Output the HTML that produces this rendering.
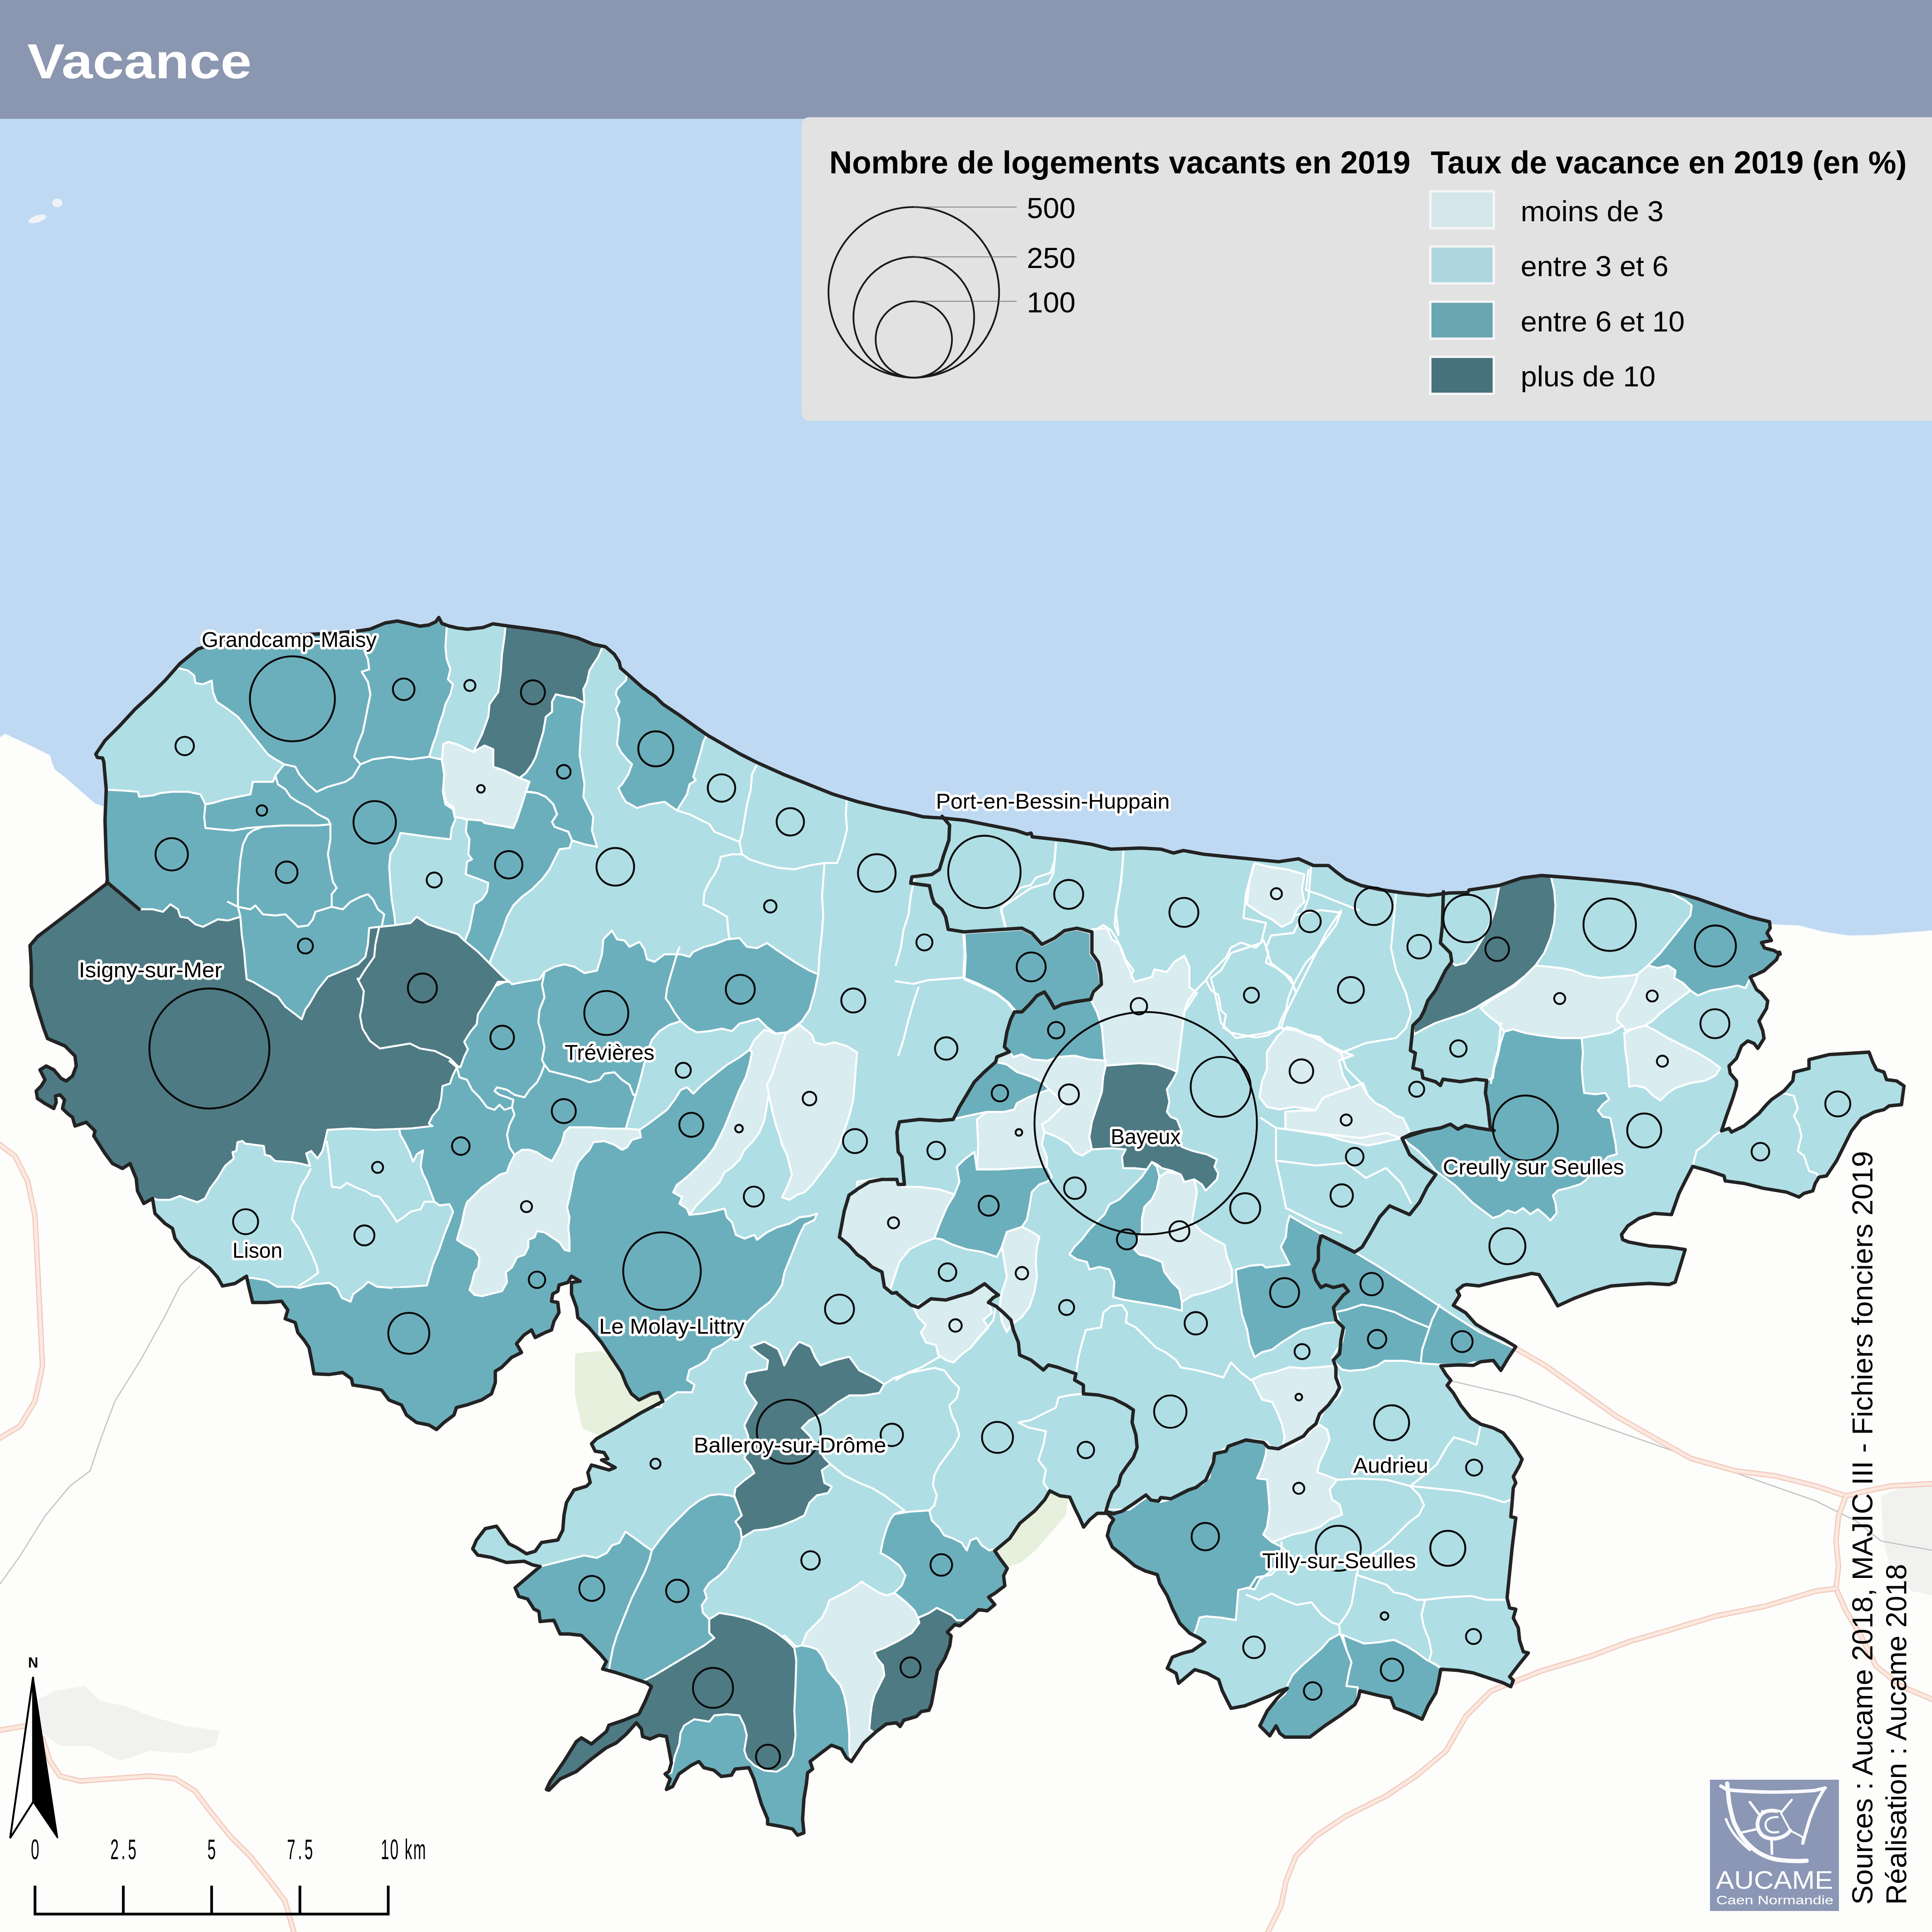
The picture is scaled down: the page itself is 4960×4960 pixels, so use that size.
<!DOCTYPE html>
<html><head><meta charset="utf-8"><title>Vacance</title>
<style>
html,body{margin:0;padding:0;background:#fdfdfc;}
body{width:4960px;height:4960px;overflow:hidden;font-family:"Liberation Sans",sans-serif;}
svg{display:block;position:absolute;left:0;top:0;}
text{font-family:"Liberation Sans",sans-serif;}
.lbl{font-size:52px;fill:#000;stroke:#fff;stroke-width:11px;paint-order:stroke fill;stroke-linejoin:round;text-anchor:middle;}
.c{fill:none;stroke:#0d0d0d;stroke-width:4.2px;}
</style></head><body>
<svg width="4960" height="4960" viewBox="0 0 4960 4960">

<rect x="0" y="0" width="4960" height="4960" fill="#fdfdfc"/>
<g transform="scale(2.56729)">
<rect x="0" y="0" width="1932" height="960" fill="#bfd9f2"/>
<path d="M0.0 737.2 L5.0 733.7 L15.0 738.4 L31.3 745.9 L42.5 751.6 L50.0 755.3 L51.9 762.2 L55.0 769.7 L65.0 777.2 L75.0 785.9 L85.0 794.7 L95.0 803.4 L101.9 805.9 L112.5 805.9 L120.0 965.0 L0.0 965.0Z" fill="#fdfdfc"/>
<path d="M1749.0 916.7 L1770.2 924.2 L1799.0 925.5 L1824.0 931.8 L1849.0 935.5 L1874.0 935.0 L1899.0 933.0 L1932.0 930.5 L1932.0 965.0 L1700.0 965.0Z" fill="#fdfdfc"/>
<path d="M575.0 1353.5 L600.0 1351.0 L665.0 1391.0 L665.0 1406.0 L600.0 1436.0 L582.5 1428.5 L575.0 1396.0Z" fill="#e6f0dc"/>
<path d="M994.6 1548.8 L1005.9 1535.0 L1020.9 1520.0 L1035.9 1507.5 L1048.4 1491.2 L1058.4 1497.5 L1068.4 1497.5 L1065.9 1515.0 L1050.9 1532.5 L1035.9 1550.0 L1020.9 1562.5 L1005.9 1567.5 L1000.9 1557.5Z" fill="#e6f0dc"/>
<path d="M35.0 1701.0 L55.0 1691.0 L85.0 1686.0 L100.0 1701.0 L125.0 1706.0 L150.0 1716.0 L185.0 1726.0 L220.0 1731.0 L215.0 1746.0 L190.0 1753.5 L150.0 1751.0 L120.0 1761.0 L90.0 1746.0 L60.0 1746.0 L40.0 1731.0Z" fill="#f1f1f0"/>
<path d="M1881.0 1496.0 L1906.0 1486.0 L1936.0 1481.0 L1936.0 1596.0 L1911.0 1591.0 L1891.0 1571.0 L1883.5 1541.0Z" fill="#f1f1f0"/>
<path d="M1341.0 1373.5 L1441.0 1378.5 L1516.0 1396.0 L1616.0 1431.0 L1716.0 1466.0 L1816.0 1501.0 L1856.0 1521.0 L1881.0 1541.0 L1936.0 1551.0" fill="none" stroke="#c4c4c4" stroke-width="1.2"/>
<path d="M-5.0 1591.0 L20.0 1556.0 L45.0 1516.0 L70.0 1486.0 L90.0 1471.0 L100.0 1441.0 L115.0 1401.0 L140.0 1361.0 L165.0 1316.0 L180.0 1286.0 L200.0 1266.0" fill="none" stroke="#c4c4c4" stroke-width="1.2"/>
<path d="M1516.0 1348.5 L1546.0 1366.0 L1581.0 1391.0 L1616.0 1416.0 L1651.0 1436.0 L1691.0 1458.5 L1736.0 1471.0 L1776.0 1476.0 L1816.0 1486.0 L1846.0 1496.0 L1866.0 1491.0 L1891.0 1486.0 L1936.0 1483.5" fill="none" stroke="#f3c9b9" stroke-width="5.5" stroke-linejoin="round"/>
<path d="M1516.0 1348.5 L1546.0 1366.0 L1581.0 1391.0 L1616.0 1416.0 L1651.0 1436.0 L1691.0 1458.5 L1736.0 1471.0 L1776.0 1476.0 L1816.0 1486.0 L1846.0 1496.0 L1866.0 1491.0 L1891.0 1486.0 L1936.0 1483.5" fill="none" stroke="#fbe9e1" stroke-width="3.2" stroke-linejoin="round"/>
<path d="M1846.0 1496.0 L1838.5 1516.0 L1836.0 1541.0 L1838.5 1566.0 L1836.0 1588.5 L1846.0 1611.0 L1861.0 1636.0 L1876.0 1666.0 L1901.0 1686.0 L1936.0 1701.0" fill="none" stroke="#f3c9b9" stroke-width="5.5" stroke-linejoin="round"/>
<path d="M1846.0 1496.0 L1838.5 1516.0 L1836.0 1541.0 L1838.5 1566.0 L1836.0 1588.5 L1846.0 1611.0 L1861.0 1636.0 L1876.0 1666.0 L1901.0 1686.0 L1936.0 1701.0" fill="none" stroke="#fbe9e1" stroke-width="3.2" stroke-linejoin="round"/>
<path d="M1836.0 1588.5 L1816.0 1591.0 L1766.0 1606.0 L1716.0 1616.0 L1666.0 1631.0 L1631.0 1641.0 L1591.0 1656.0 L1541.0 1671.0 L1491.0 1691.0 L1466.0 1716.0 L1446.0 1751.0 L1416.0 1776.0 L1386.0 1796.0 L1346.0 1816.0 L1316.0 1836.0 L1296.0 1856.0 L1286.0 1881.0 L1281.0 1906.0 L1266.0 1936.0" fill="none" stroke="#f3c9b9" stroke-width="5.5" stroke-linejoin="round"/>
<path d="M1836.0 1588.5 L1816.0 1591.0 L1766.0 1606.0 L1716.0 1616.0 L1666.0 1631.0 L1631.0 1641.0 L1591.0 1656.0 L1541.0 1671.0 L1491.0 1691.0 L1466.0 1716.0 L1446.0 1751.0 L1416.0 1776.0 L1386.0 1796.0 L1346.0 1816.0 L1316.0 1836.0 L1296.0 1856.0 L1286.0 1881.0 L1281.0 1906.0 L1266.0 1936.0" fill="none" stroke="#fbe9e1" stroke-width="3.2" stroke-linejoin="round"/>
<path d="M-5.0 1141.0 L15.0 1156.0 L27.5 1181.0 L35.0 1216.0 L37.5 1266.0 L40.0 1316.0 L42.5 1366.0 L35.0 1401.0 L20.0 1426.0 L-5.0 1441.0" fill="none" stroke="#f3c9b9" stroke-width="5.5" stroke-linejoin="round"/>
<path d="M-5.0 1141.0 L15.0 1156.0 L27.5 1181.0 L35.0 1216.0 L37.5 1266.0 L40.0 1316.0 L42.5 1366.0 L35.0 1401.0 L20.0 1426.0 L-5.0 1441.0" fill="none" stroke="#fbe9e1" stroke-width="3.2" stroke-linejoin="round"/>
<path d="M-5.0 1731.0 L25.0 1726.0 L42.5 1738.5 L50.0 1761.0 L60.0 1776.0 L80.0 1781.0 L115.0 1778.5 L150.0 1776.0 L175.0 1778.5 L195.0 1791.0 L210.0 1811.0 L230.0 1836.0 L250.0 1856.0 L270.0 1881.0 L285.0 1901.0 L295.0 1936.0" fill="none" stroke="#f3c9b9" stroke-width="5.5" stroke-linejoin="round"/>
<path d="M-5.0 1731.0 L25.0 1726.0 L42.5 1738.5 L50.0 1761.0 L60.0 1776.0 L80.0 1781.0 L115.0 1778.5 L150.0 1776.0 L175.0 1778.5 L195.0 1791.0 L210.0 1811.0 L230.0 1836.0 L250.0 1856.0 L270.0 1881.0 L285.0 1901.0 L295.0 1936.0" fill="none" stroke="#fbe9e1" stroke-width="3.2" stroke-linejoin="round"/>
<clipPath id="oc"><path d="M95.8 754.2 L105.0 740.5 L120.0 725.5 L135.0 709.2 L150.0 695.5 L165.0 680.5 L180.0 663.5 L197.5 649.2 L215.0 643.0 L237.5 639.2 L262.5 637.5 L287.5 636.0 L312.5 634.2 L337.5 633.0 L357.5 631.0 L370.0 629.2 L385.0 623.0 L397.5 621.0 L410.0 623.8 L420.0 626.2 L428.8 625.0 L435.5 622.0 L438.8 617.5 L442.0 623.5 L448.8 626.0 L457.5 628.0 L467.5 629.2 L483.0 627.5 L493.0 623.8 L508.0 626.0 L533.0 629.2 L558.0 633.0 L578.0 638.0 L593.0 644.2 L605.5 646.8 L614.2 654.2 L619.2 661.8 L620.5 668.0 L630.5 676.8 L643.0 688.0 L655.5 696.8 L663.0 704.2 L678.0 714.2 L695.5 726.8 L708.0 735.5 L723.0 744.2 L740.5 754.2 L758.0 763.0 L783.0 774.2 L808.0 784.2 L833.0 794.2 L858.0 801.8 L883.0 808.0 L908.0 813.0 L923.0 816.8 L933.0 817.5 L943.0 818.0 L966.0 820.5 L991.0 825.5 L1016.0 830.5 L1027.2 834.2 L1031.0 833.0 L1032.2 836.8 L1066.0 840.5 L1091.0 844.2 L1111.0 849.2 L1141.0 848.0 L1161.0 849.2 L1173.5 853.0 L1183.5 850.5 L1203.5 854.2 L1228.5 856.8 L1253.5 859.2 L1278.5 861.7 L1298.5 858.8 L1313.5 865.5 L1328.5 865.5 L1336.0 871.7 L1346.0 879.2 L1361.0 885.5 L1378.5 889.3 L1403.5 893.0 L1428.5 895.5 L1449.0 893.0 L1467.8 892.5 L1469.0 890.0 L1499.0 885.5 L1521.5 878.0 L1541.5 875.5 L1569.0 877.5 L1604.0 880.5 L1639.0 884.2 L1674.0 891.8 L1699.0 899.2 L1724.0 908.0 L1749.0 916.7 L1769.5 921.8 L1770.2 928.0 L1767.0 933.0 L1771.5 940.5 L1761.5 942.5 L1764.5 948.0 L1774.0 950.5 L1780.2 954.2 L1779.5 952.1 L1776.5 959.6 L1764.0 970.9 L1750.2 977.1 L1756.5 989.6 L1761.5 993.4 L1767.7 1000.9 L1766.5 1008.4 L1759.0 1020.9 L1762.8 1030.9 L1764.0 1038.4 L1757.8 1048.4 L1754.0 1043.4 L1747.7 1040.9 L1741.5 1045.9 L1736.5 1058.4 L1729.0 1065.9 L1730.2 1073.4 L1736.5 1080.9 L1736.5 1085.9 L1732.7 1098.4 L1726.5 1115.9 L1721.5 1130.9 L1729.0 1128.4 L1731.5 1132.1 L1744.0 1125.9 L1759.0 1113.4 L1766.5 1104.6 L1771.5 1099.6 L1784.0 1090.9 L1792.8 1080.9 L1794.0 1072.1 L1809.0 1068.4 L1809.0 1059.6 L1829.0 1054.6 L1849.0 1053.4 L1869.0 1052.1 L1872.8 1062.1 L1876.5 1069.6 L1884.0 1072.1 L1886.5 1079.6 L1896.5 1080.9 L1904.0 1085.9 L1901.5 1104.6 L1889.0 1105.9 L1884.0 1109.6 L1874.0 1112.1 L1866.5 1115.9 L1861.5 1118.4 L1851.5 1130.9 L1844.0 1145.9 L1836.5 1160.9 L1826.5 1175.9 L1819.0 1177.1 L1815.2 1183.4 L1812.8 1190.9 L1804.0 1193.4 L1799.0 1197.1 L1786.5 1192.1 L1764.0 1188.4 L1744.0 1183.4 L1725.2 1180.9 L1724.0 1175.9 L1709.0 1170.9 L1692.7 1166.4 L1686.5 1178.4 L1679.0 1193.4 L1671.5 1214.6 L1654.0 1213.4 L1639.0 1218.4 L1627.8 1225.9 L1621.5 1234.6 L1622.7 1239.6 L1629.0 1242.1 L1649.0 1245.9 L1669.0 1247.1 L1685.2 1249.6 L1680.2 1265.9 L1675.2 1282.1 L1669.0 1284.6 L1649.0 1283.4 L1629.0 1284.6 L1611.5 1285.9 L1594.0 1290.9 L1574.0 1298.4 L1557.7 1305.9 L1549.0 1290.9 L1539.0 1274.6 L1531.5 1273.4 L1521.5 1275.9 L1509.0 1278.4 L1494.0 1282.1 L1479.0 1285.9 L1466.5 1284.6 L1463.3 1285.4 L1457.1 1290.4 L1459.6 1295.4 L1453.3 1305.4 L1465.8 1312.9 L1475.8 1324.2 L1488.3 1331.7 L1503.3 1339.2 L1515.8 1346.7 L1508.3 1357.9 L1500.8 1370.4 L1493.3 1360.4 L1480.8 1361.7 L1473.3 1365.4 L1458.3 1364.9 L1440.8 1365.9 L1445.8 1374.2 L1450.8 1380.4 L1447.1 1385.4 L1453.3 1392.9 L1460.8 1405.4 L1470.8 1417.9 L1480.8 1424.2 L1493.3 1427.9 L1503.3 1432.9 L1513.3 1445.4 L1522.1 1459.2 L1519.6 1465.4 L1513.3 1476.7 L1515.8 1482.9 L1513.3 1487.9 L1512.1 1502.9 L1510.8 1516.7 L1515.8 1517.9 L1512.1 1547.9 L1509.6 1572.9 L1507.1 1597.9 L1509.6 1607.9 L1515.8 1609.2 L1513.3 1617.9 L1518.3 1627.9 L1519.6 1640.4 L1523.3 1651.7 L1528.3 1652.9 L1518.3 1665.4 L1509.6 1676.7 L1513.3 1680.4 L1510.8 1686.7 L1503.3 1682.9 L1488.3 1677.9 L1473.3 1672.9 L1458.3 1670.4 L1440.8 1669.2 L1438.3 1682.9 L1435.8 1692.9 L1428.3 1705.4 L1422.1 1719.2 L1408.3 1712.9 L1394.6 1707.9 L1390.8 1697.9 L1378.3 1695.4 L1363.3 1691.7 L1359.8 1690.8 L1358.6 1697.1 L1354.8 1704.6 L1339.8 1715.8 L1324.8 1725.8 L1309.8 1737.1 L1294.8 1737.1 L1284.8 1737.1 L1279.8 1733.3 L1276.1 1725.8 L1269.8 1735.8 L1264.8 1730.8 L1259.8 1725.8 L1267.3 1710.8 L1277.3 1698.3 L1287.3 1688.3 L1279.8 1690.8 L1269.8 1695.8 L1257.3 1700.8 L1244.8 1705.8 L1231.1 1708.3 L1227.3 1700.8 L1222.3 1690.8 L1218.6 1679.6 L1207.3 1673.3 L1194.8 1669.6 L1178.6 1683.3 L1176.1 1673.3 L1167.3 1668.3 L1172.3 1657.1 L1182.3 1653.3 L1192.3 1650.8 L1204.8 1642.1 L1199.8 1638.3 L1189.8 1633.3 L1179.8 1623.3 L1172.3 1608.3 L1167.3 1595.8 L1159.8 1583.3 L1157.3 1574.6 L1144.8 1570.8 L1134.8 1565.8 L1124.8 1557.1 L1112.3 1547.1 L1107.3 1535.8 L1109.8 1525.8 L1113.6 1519.6 L1107.3 1513.3 L1097.3 1513.3 L1089.8 1519.6 L1083.6 1527.1 L1079.8 1518.3 L1074.8 1508.3 L1069.8 1497.1 L1059.8 1495.8 L1049.8 1490.8 L1044.8 1499.6 L1034.8 1510.8 L1019.8 1523.3 L1009.8 1538.3 L994.8 1550.8 L999.8 1558.3 L1007.3 1568.3 L1003.6 1575.8 L1004.8 1585.8 L994.8 1593.3 L988.6 1597.1 L994.8 1604.6 L987.3 1610.8 L978.6 1609.6 L972.3 1615.8 L959.8 1625.8 L954.8 1624.6 L947.3 1632.1 L951.1 1635.8 L949.8 1645.8 L944.8 1658.3 L937.3 1670.8 L934.8 1685.8 L931.4 1704.0 L928.9 1710.3 L921.4 1711.5 L916.4 1716.5 L903.9 1720.2 L900.1 1726.5 L896.4 1722.8 L886.4 1724.0 L876.4 1731.5 L863.9 1742.8 L856.4 1754.0 L851.4 1761.5 L846.4 1757.8 L841.4 1749.0 L831.4 1745.2 L821.4 1752.7 L810.1 1761.5 L812.6 1769.0 L807.6 1772.8 L806.4 1784.0 L803.9 1799.0 L802.6 1819.0 L803.9 1832.8 L797.6 1835.2 L792.6 1829.0 L781.4 1826.5 L767.6 1824.0 L767.6 1819.0 L761.4 1804.0 L753.9 1779.0 L748.9 1767.7 L735.1 1769.0 L731.4 1775.2 L721.4 1776.5 L713.9 1770.2 L703.9 1767.7 L698.9 1761.5 L691.4 1765.2 L678.9 1774.0 L672.6 1786.5 L666.4 1789.5 L670.1 1779.0 L665.1 1774.0 L668.9 1771.5 L671.4 1762.8 L668.9 1749.0 L666.4 1736.5 L658.9 1735.2 L650.1 1739.0 L642.6 1736.5 L641.4 1729.0 L636.4 1722.8 L626.4 1734.0 L616.4 1742.8 L606.4 1747.7 L591.4 1759.0 L576.4 1771.5 L560.1 1779.0 L548.9 1790.2 L546.4 1789.5 L550.1 1781.5 L563.9 1761.5 L576.4 1741.5 L581.4 1737.8 L591.4 1744.0 L606.4 1731.5 L608.9 1725.2 L623.9 1720.2 L638.9 1714.0 L645.1 1701.5 L651.4 1686.5 L646.4 1682.8 L631.4 1677.7 L616.4 1672.7 L602.6 1669.0 L606.4 1661.5 L600.1 1654.0 L591.4 1645.2 L581.4 1635.3 L568.9 1634.0 L560.1 1634.0 L553.9 1620.2 L540.1 1621.5 L538.9 1611.5 L533.9 1609.0 L527.6 1599.0 L518.9 1596.5 L515.1 1587.8 L540.1 1566.5 L532.8 1565.0 L524.0 1561.2 L506.5 1562.5 L491.5 1557.5 L477.7 1555.0 L472.7 1548.8 L476.5 1540.0 L485.2 1528.7 L496.5 1526.2 L502.8 1535.0 L509.0 1543.8 L516.5 1547.5 L526.5 1553.8 L535.2 1551.2 L541.5 1542.5 L557.8 1540.0 L562.8 1530.0 L564.0 1515.0 L566.5 1502.5 L574.0 1490.0 L586.5 1486.2 L590.2 1482.5 L587.8 1472.5 L591.5 1465.0 L609.0 1470.0 L615.2 1467.5 L601.5 1460.0 L607.8 1458.8 L604.0 1452.5 L595.2 1451.2 L591.5 1443.8 L596.5 1438.8 L616.5 1427.5 L641.5 1412.5 L662.8 1401.2 L659.0 1392.5 L651.5 1393.8 L639.0 1400.0 L631.5 1393.8 L626.5 1385.0 L621.5 1372.5 L611.5 1357.5 L601.5 1342.5 L589.0 1327.5 L577.8 1317.5 L576.5 1307.5 L571.5 1293.8 L571.5 1282.5 L580.2 1281.2 L571.5 1276.2 L567.8 1282.5 L559.0 1285.0 L557.8 1291.2 L552.8 1293.8 L551.5 1301.2 L557.8 1302.5 L559.0 1312.5 L554.0 1321.2 L551.5 1330.0 L545.2 1332.5 L535.2 1337.5 L531.5 1330.0 L524.0 1335.0 L516.5 1343.7 L521.5 1352.5 L511.5 1357.5 L501.5 1367.5 L495.3 1371.2 L495.3 1382.5 L491.5 1393.8 L481.5 1400.0 L466.5 1405.0 L456.5 1407.5 L454.0 1415.0 L444.0 1422.5 L436.5 1429.5 L429.0 1425.0 L416.5 1422.5 L406.5 1415.0 L401.5 1405.0 L389.0 1400.0 L381.5 1390.0 L366.5 1387.0 L352.8 1385.0 L351.5 1378.8 L342.7 1372.5 L329.0 1374.5 L314.0 1373.8 L311.5 1360.0 L309.0 1347.5 L304.0 1340.0 L297.8 1332.5 L295.2 1322.5 L285.2 1318.8 L287.8 1310.0 L281.5 1301.2 L266.5 1302.5 L252.7 1302.5 L249.0 1287.5 L246.5 1276.2 L235.0 1283.5 L222.5 1286.0 L217.5 1277.2 L210.0 1268.5 L200.0 1261.0 L190.0 1256.0 L182.5 1248.5 L175.0 1238.5 L172.5 1228.5 L165.0 1223.5 L155.0 1213.5 L152.5 1198.5 L143.8 1203.5 L137.5 1191.0 L136.2 1178.5 L130.0 1163.5 L122.5 1168.5 L112.5 1163.5 L105.0 1153.5 L93.8 1136.0 L95.0 1131.0 L86.2 1122.2 L75.0 1126.0 L72.5 1117.2 L67.5 1113.5 L62.5 1108.5 L64.5 1099.8 L60.0 1094.8 L55.5 1096.0 L56.2 1102.2 L53.8 1108.5 L45.0 1103.5 L37.5 1098.5 L36.2 1091.0 L41.2 1086.0 L45.0 1079.8 L40.0 1069.8 L46.2 1066.0 L53.8 1069.8 L61.2 1078.5 L66.2 1081.0 L72.5 1076.0 L76.2 1066.0 L75.0 1056.0 L65.0 1046.0 L47.5 1038.5 L43.8 1028.5 L37.5 1008.5 L31.3 986.0 L31.3 966.0 L30.0 945.5 L37.5 936.7 L75.0 908.0 L107.5 883.0 L106.2 858.0 L105.0 820.5 L106.2 789.2 L103.8 761.8 L102.5 758.0 L97.5 757.5Z"/></clipPath>
<g clip-path="url(#oc)">
<path d="M95.8 754.2 L105.0 740.5 L120.0 725.5 L135.0 709.2 L150.0 695.5 L165.0 680.5 L180.0 663.5 L197.5 649.2 L215.0 643.0 L237.5 639.2 L262.5 637.5 L287.5 636.0 L312.5 634.2 L337.5 633.0 L357.5 631.0 L370.0 629.2 L385.0 623.0 L397.5 621.0 L410.0 623.8 L420.0 626.2 L428.8 625.0 L435.5 622.0 L438.8 617.5 L442.0 623.5 L448.8 626.0 L457.5 628.0 L467.5 629.2 L483.0 627.5 L493.0 623.8 L508.0 626.0 L533.0 629.2 L558.0 633.0 L578.0 638.0 L593.0 644.2 L605.5 646.8 L614.2 654.2 L619.2 661.8 L620.5 668.0 L630.5 676.8 L643.0 688.0 L655.5 696.8 L663.0 704.2 L678.0 714.2 L695.5 726.8 L708.0 735.5 L723.0 744.2 L740.5 754.2 L758.0 763.0 L783.0 774.2 L808.0 784.2 L833.0 794.2 L858.0 801.8 L883.0 808.0 L908.0 813.0 L923.0 816.8 L933.0 817.5 L943.0 818.0 L966.0 820.5 L991.0 825.5 L1016.0 830.5 L1027.2 834.2 L1031.0 833.0 L1032.2 836.8 L1066.0 840.5 L1091.0 844.2 L1111.0 849.2 L1141.0 848.0 L1161.0 849.2 L1173.5 853.0 L1183.5 850.5 L1203.5 854.2 L1228.5 856.8 L1253.5 859.2 L1278.5 861.7 L1298.5 858.8 L1313.5 865.5 L1328.5 865.5 L1336.0 871.7 L1346.0 879.2 L1361.0 885.5 L1378.5 889.3 L1403.5 893.0 L1428.5 895.5 L1449.0 893.0 L1467.8 892.5 L1469.0 890.0 L1499.0 885.5 L1521.5 878.0 L1541.5 875.5 L1569.0 877.5 L1604.0 880.5 L1639.0 884.2 L1674.0 891.8 L1699.0 899.2 L1724.0 908.0 L1749.0 916.7 L1769.5 921.8 L1770.2 928.0 L1767.0 933.0 L1771.5 940.5 L1761.5 942.5 L1764.5 948.0 L1774.0 950.5 L1780.2 954.2 L1779.5 952.1 L1776.5 959.6 L1764.0 970.9 L1750.2 977.1 L1756.5 989.6 L1761.5 993.4 L1767.7 1000.9 L1766.5 1008.4 L1759.0 1020.9 L1762.8 1030.9 L1764.0 1038.4 L1757.8 1048.4 L1754.0 1043.4 L1747.7 1040.9 L1741.5 1045.9 L1736.5 1058.4 L1729.0 1065.9 L1730.2 1073.4 L1736.5 1080.9 L1736.5 1085.9 L1732.7 1098.4 L1726.5 1115.9 L1721.5 1130.9 L1729.0 1128.4 L1731.5 1132.1 L1744.0 1125.9 L1759.0 1113.4 L1766.5 1104.6 L1771.5 1099.6 L1784.0 1090.9 L1792.8 1080.9 L1794.0 1072.1 L1809.0 1068.4 L1809.0 1059.6 L1829.0 1054.6 L1849.0 1053.4 L1869.0 1052.1 L1872.8 1062.1 L1876.5 1069.6 L1884.0 1072.1 L1886.5 1079.6 L1896.5 1080.9 L1904.0 1085.9 L1901.5 1104.6 L1889.0 1105.9 L1884.0 1109.6 L1874.0 1112.1 L1866.5 1115.9 L1861.5 1118.4 L1851.5 1130.9 L1844.0 1145.9 L1836.5 1160.9 L1826.5 1175.9 L1819.0 1177.1 L1815.2 1183.4 L1812.8 1190.9 L1804.0 1193.4 L1799.0 1197.1 L1786.5 1192.1 L1764.0 1188.4 L1744.0 1183.4 L1725.2 1180.9 L1724.0 1175.9 L1709.0 1170.9 L1692.7 1166.4 L1686.5 1178.4 L1679.0 1193.4 L1671.5 1214.6 L1654.0 1213.4 L1639.0 1218.4 L1627.8 1225.9 L1621.5 1234.6 L1622.7 1239.6 L1629.0 1242.1 L1649.0 1245.9 L1669.0 1247.1 L1685.2 1249.6 L1680.2 1265.9 L1675.2 1282.1 L1669.0 1284.6 L1649.0 1283.4 L1629.0 1284.6 L1611.5 1285.9 L1594.0 1290.9 L1574.0 1298.4 L1557.7 1305.9 L1549.0 1290.9 L1539.0 1274.6 L1531.5 1273.4 L1521.5 1275.9 L1509.0 1278.4 L1494.0 1282.1 L1479.0 1285.9 L1466.5 1284.6 L1463.3 1285.4 L1457.1 1290.4 L1459.6 1295.4 L1453.3 1305.4 L1465.8 1312.9 L1475.8 1324.2 L1488.3 1331.7 L1503.3 1339.2 L1515.8 1346.7 L1508.3 1357.9 L1500.8 1370.4 L1493.3 1360.4 L1480.8 1361.7 L1473.3 1365.4 L1458.3 1364.9 L1440.8 1365.9 L1445.8 1374.2 L1450.8 1380.4 L1447.1 1385.4 L1453.3 1392.9 L1460.8 1405.4 L1470.8 1417.9 L1480.8 1424.2 L1493.3 1427.9 L1503.3 1432.9 L1513.3 1445.4 L1522.1 1459.2 L1519.6 1465.4 L1513.3 1476.7 L1515.8 1482.9 L1513.3 1487.9 L1512.1 1502.9 L1510.8 1516.7 L1515.8 1517.9 L1512.1 1547.9 L1509.6 1572.9 L1507.1 1597.9 L1509.6 1607.9 L1515.8 1609.2 L1513.3 1617.9 L1518.3 1627.9 L1519.6 1640.4 L1523.3 1651.7 L1528.3 1652.9 L1518.3 1665.4 L1509.6 1676.7 L1513.3 1680.4 L1510.8 1686.7 L1503.3 1682.9 L1488.3 1677.9 L1473.3 1672.9 L1458.3 1670.4 L1440.8 1669.2 L1438.3 1682.9 L1435.8 1692.9 L1428.3 1705.4 L1422.1 1719.2 L1408.3 1712.9 L1394.6 1707.9 L1390.8 1697.9 L1378.3 1695.4 L1363.3 1691.7 L1359.8 1690.8 L1358.6 1697.1 L1354.8 1704.6 L1339.8 1715.8 L1324.8 1725.8 L1309.8 1737.1 L1294.8 1737.1 L1284.8 1737.1 L1279.8 1733.3 L1276.1 1725.8 L1269.8 1735.8 L1264.8 1730.8 L1259.8 1725.8 L1267.3 1710.8 L1277.3 1698.3 L1287.3 1688.3 L1279.8 1690.8 L1269.8 1695.8 L1257.3 1700.8 L1244.8 1705.8 L1231.1 1708.3 L1227.3 1700.8 L1222.3 1690.8 L1218.6 1679.6 L1207.3 1673.3 L1194.8 1669.6 L1178.6 1683.3 L1176.1 1673.3 L1167.3 1668.3 L1172.3 1657.1 L1182.3 1653.3 L1192.3 1650.8 L1204.8 1642.1 L1199.8 1638.3 L1189.8 1633.3 L1179.8 1623.3 L1172.3 1608.3 L1167.3 1595.8 L1159.8 1583.3 L1157.3 1574.6 L1144.8 1570.8 L1134.8 1565.8 L1124.8 1557.1 L1112.3 1547.1 L1107.3 1535.8 L1109.8 1525.8 L1113.6 1519.6 L1107.3 1513.3 L1097.3 1513.3 L1089.8 1519.6 L1083.6 1527.1 L1079.8 1518.3 L1074.8 1508.3 L1069.8 1497.1 L1059.8 1495.8 L1049.8 1490.8 L1044.8 1499.6 L1034.8 1510.8 L1019.8 1523.3 L1009.8 1538.3 L994.8 1550.8 L999.8 1558.3 L1007.3 1568.3 L1003.6 1575.8 L1004.8 1585.8 L994.8 1593.3 L988.6 1597.1 L994.8 1604.6 L987.3 1610.8 L978.6 1609.6 L972.3 1615.8 L959.8 1625.8 L954.8 1624.6 L947.3 1632.1 L951.1 1635.8 L949.8 1645.8 L944.8 1658.3 L937.3 1670.8 L934.8 1685.8 L931.4 1704.0 L928.9 1710.3 L921.4 1711.5 L916.4 1716.5 L903.9 1720.2 L900.1 1726.5 L896.4 1722.8 L886.4 1724.0 L876.4 1731.5 L863.9 1742.8 L856.4 1754.0 L851.4 1761.5 L846.4 1757.8 L841.4 1749.0 L831.4 1745.2 L821.4 1752.7 L810.1 1761.5 L812.6 1769.0 L807.6 1772.8 L806.4 1784.0 L803.9 1799.0 L802.6 1819.0 L803.9 1832.8 L797.6 1835.2 L792.6 1829.0 L781.4 1826.5 L767.6 1824.0 L767.6 1819.0 L761.4 1804.0 L753.9 1779.0 L748.9 1767.7 L735.1 1769.0 L731.4 1775.2 L721.4 1776.5 L713.9 1770.2 L703.9 1767.7 L698.9 1761.5 L691.4 1765.2 L678.9 1774.0 L672.6 1786.5 L666.4 1789.5 L670.1 1779.0 L665.1 1774.0 L668.9 1771.5 L671.4 1762.8 L668.9 1749.0 L666.4 1736.5 L658.9 1735.2 L650.1 1739.0 L642.6 1736.5 L641.4 1729.0 L636.4 1722.8 L626.4 1734.0 L616.4 1742.8 L606.4 1747.7 L591.4 1759.0 L576.4 1771.5 L560.1 1779.0 L548.9 1790.2 L546.4 1789.5 L550.1 1781.5 L563.9 1761.5 L576.4 1741.5 L581.4 1737.8 L591.4 1744.0 L606.4 1731.5 L608.9 1725.2 L623.9 1720.2 L638.9 1714.0 L645.1 1701.5 L651.4 1686.5 L646.4 1682.8 L631.4 1677.7 L616.4 1672.7 L602.6 1669.0 L606.4 1661.5 L600.1 1654.0 L591.4 1645.2 L581.4 1635.3 L568.9 1634.0 L560.1 1634.0 L553.9 1620.2 L540.1 1621.5 L538.9 1611.5 L533.9 1609.0 L527.6 1599.0 L518.9 1596.5 L515.1 1587.8 L540.1 1566.5 L532.8 1565.0 L524.0 1561.2 L506.5 1562.5 L491.5 1557.5 L477.7 1555.0 L472.7 1548.8 L476.5 1540.0 L485.2 1528.7 L496.5 1526.2 L502.8 1535.0 L509.0 1543.8 L516.5 1547.5 L526.5 1553.8 L535.2 1551.2 L541.5 1542.5 L557.8 1540.0 L562.8 1530.0 L564.0 1515.0 L566.5 1502.5 L574.0 1490.0 L586.5 1486.2 L590.2 1482.5 L587.8 1472.5 L591.5 1465.0 L609.0 1470.0 L615.2 1467.5 L601.5 1460.0 L607.8 1458.8 L604.0 1452.5 L595.2 1451.2 L591.5 1443.8 L596.5 1438.8 L616.5 1427.5 L641.5 1412.5 L662.8 1401.2 L659.0 1392.5 L651.5 1393.8 L639.0 1400.0 L631.5 1393.8 L626.5 1385.0 L621.5 1372.5 L611.5 1357.5 L601.5 1342.5 L589.0 1327.5 L577.8 1317.5 L576.5 1307.5 L571.5 1293.8 L571.5 1282.5 L580.2 1281.2 L571.5 1276.2 L567.8 1282.5 L559.0 1285.0 L557.8 1291.2 L552.8 1293.8 L551.5 1301.2 L557.8 1302.5 L559.0 1312.5 L554.0 1321.2 L551.5 1330.0 L545.2 1332.5 L535.2 1337.5 L531.5 1330.0 L524.0 1335.0 L516.5 1343.7 L521.5 1352.5 L511.5 1357.5 L501.5 1367.5 L495.3 1371.2 L495.3 1382.5 L491.5 1393.8 L481.5 1400.0 L466.5 1405.0 L456.5 1407.5 L454.0 1415.0 L444.0 1422.5 L436.5 1429.5 L429.0 1425.0 L416.5 1422.5 L406.5 1415.0 L401.5 1405.0 L389.0 1400.0 L381.5 1390.0 L366.5 1387.0 L352.8 1385.0 L351.5 1378.8 L342.7 1372.5 L329.0 1374.5 L314.0 1373.8 L311.5 1360.0 L309.0 1347.5 L304.0 1340.0 L297.8 1332.5 L295.2 1322.5 L285.2 1318.8 L287.8 1310.0 L281.5 1301.2 L266.5 1302.5 L252.7 1302.5 L249.0 1287.5 L246.5 1276.2 L235.0 1283.5 L222.5 1286.0 L217.5 1277.2 L210.0 1268.5 L200.0 1261.0 L190.0 1256.0 L182.5 1248.5 L175.0 1238.5 L172.5 1228.5 L165.0 1223.5 L155.0 1213.5 L152.5 1198.5 L143.8 1203.5 L137.5 1191.0 L136.2 1178.5 L130.0 1163.5 L122.5 1168.5 L112.5 1163.5 L105.0 1153.5 L93.8 1136.0 L95.0 1131.0 L86.2 1122.2 L75.0 1126.0 L72.5 1117.2 L67.5 1113.5 L62.5 1108.5 L64.5 1099.8 L60.0 1094.8 L55.5 1096.0 L56.2 1102.2 L53.8 1108.5 L45.0 1103.5 L37.5 1098.5 L36.2 1091.0 L41.2 1086.0 L45.0 1079.8 L40.0 1069.8 L46.2 1066.0 L53.8 1069.8 L61.2 1078.5 L66.2 1081.0 L72.5 1076.0 L76.2 1066.0 L75.0 1056.0 L65.0 1046.0 L47.5 1038.5 L43.8 1028.5 L37.5 1008.5 L31.3 986.0 L31.3 966.0 L30.0 945.5 L37.5 936.7 L75.0 908.0 L107.5 883.0 L106.2 858.0 L105.0 820.5 L106.2 789.2 L103.8 761.8 L102.5 758.0 L97.5 757.5Z" fill="#b0dee5"/>
<path d="M65.4 789.8 L107.9 789.8 L122.9 790.5 L137.9 791.8 L139.2 796.8 L152.9 795.5 L160.4 793.0 L172.9 791.8 L187.9 791.8 L200.4 794.3 L205.4 804.3 L212.9 803.0 L225.4 799.3 L237.9 796.8 L250.4 794.3 L252.9 781.8 L272.9 781.8 L275.4 775.5 L284.2 764.3 L275.4 759.3 L267.9 754.3 L257.9 741.8 L247.9 729.3 L237.9 716.8 L227.9 709.3 L216.7 701.8 L212.9 691.8 L211.7 680.5 L202.9 684.3 L195.4 683.0 L194.2 675.5 L187.9 670.5 L177.9 668.0 L177.9 609.3 L446.7 609.3 L446.7 628.0 L445.4 646.8 L446.7 659.3 L450.4 669.3 L447.9 679.3 L452.9 684.3 L450.4 694.3 L445.4 704.3 L442.9 714.3 L439.2 724.3 L436.7 734.3 L432.9 744.3 L429.2 756.8 L440.4 759.3 L441.7 759.3 L444.2 774.3 L442.9 791.8 L445.4 804.3 L452.9 809.3 L455.4 819.3 L451.7 828.0 L450.4 839.3 L427.9 836.8 L410.4 834.3 L400.4 833.0 L396.7 844.3 L390.4 854.3 L389.2 866.8 L390.4 884.3 L391.7 899.3 L394.2 914.3 L395.4 924.3 L395.4 1009.3 L227.9 1034.3 L102.9 934.3 L65.4 871.8Z" fill="#6cafbc" stroke="#fff" stroke-width="2.0" stroke-linejoin="round"/>
<path d="M552.0 701.8 L555.8 694.3 L567.0 696.8 L574.5 698.0 L584.5 703.0 L582.0 716.8 L580.8 734.3 L579.5 754.3 L582.0 769.3 L584.5 784.3 L583.3 796.8 L589.5 809.3 L593.3 816.8 L592.0 830.5 L597.0 846.8 L584.5 844.3 L572.0 840.5 L568.3 831.8 L554.5 826.8 L552.0 821.8 L557.0 814.3 L553.3 804.3 L545.8 796.8 L537.0 793.0 L529.5 791.8 L525.8 791.8 L529.5 781.8 L519.5 778.0 L525.8 773.0 L532.0 764.3 L535.8 756.8 L539.5 744.3 L543.3 731.8 L545.8 716.8 L552.0 711.8Z" fill="#6cafbc" stroke="#fff" stroke-width="2.0" stroke-linejoin="round"/>
<path d="M467.0 819.3 L482.0 820.5 L484.5 823.0 L499.5 825.5 L513.3 828.0 L517.0 819.3 L522.0 804.3 L525.8 791.8 L537.0 793.0 L545.8 796.8 L553.3 804.3 L557.0 814.3 L552.0 821.8 L554.5 826.8 L568.3 831.8 L572.0 840.5 L569.5 848.0 L559.5 849.3 L554.5 859.3 L549.5 869.3 L542.0 879.3 L532.0 889.3 L522.0 896.8 L513.3 905.5 L507.0 916.8 L502.0 931.8 L495.8 946.8 L489.5 963.0 L477.0 954.3 L464.5 945.5 L463.3 946.8 L464.5 941.8 L469.5 929.3 L472.0 916.8 L474.5 904.3 L482.0 899.3 L487.0 891.8 L488.3 883.0 L479.5 879.3 L465.8 874.3 L467.0 861.8 L472.0 859.3 L468.3 854.3 L469.5 839.3 L465.8 831.8Z" fill="#6cafbc" stroke="#fff" stroke-width="2.0" stroke-linejoin="round"/>
<path d="M625.8 680.5 L617.0 689.3 L615.8 694.3 L619.5 701.8 L615.8 709.3 L619.5 719.3 L618.3 731.8 L617.0 744.3 L620.8 751.8 L627.0 759.3 L632.0 764.3 L628.3 774.3 L622.0 784.3 L618.3 788.0 L622.0 795.5 L625.8 801.8 L637.0 808.0 L649.5 804.3 L664.5 801.8 L677.0 810.5 L680.8 804.3 L687.0 794.3 L689.5 784.3 L695.8 780.5 L693.3 776.8 L697.0 764.3 L700.8 751.8 L703.3 741.8 L705.8 736.8 L705.8 724.3 L714.5 709.3 L629.5 659.3Z" fill="#6cafbc" stroke="#fff" stroke-width="2.0" stroke-linejoin="round"/>
<path d="M508.3 980.6 L512.0 984.3 L524.5 981.8 L539.5 979.3 L544.5 971.8 L554.5 966.8 L564.5 964.3 L574.5 966.8 L584.5 973.1 L597.0 970.6 L602.0 954.3 L603.3 939.3 L612.0 930.6 L617.0 939.3 L624.5 940.6 L629.5 946.8 L639.5 941.8 L644.5 949.3 L647.0 959.3 L654.5 961.8 L664.5 954.3 L680.8 954.3 L689.5 956.8 L693.3 951.8 L704.5 946.8 L714.5 944.3 L727.0 939.3 L739.5 938.1 L747.0 946.8 L757.0 948.1 L767.0 943.1 L779.5 951.8 L794.5 961.8 L809.5 970.6 L818.3 974.3 L814.5 992.3 L809.5 1009.8 L802.0 1021.1 L795.8 1026.1 L787.0 1032.3 L775.8 1033.6 L767.0 1027.3 L758.3 1018.6 L749.5 1021.1 L739.5 1023.6 L732.0 1031.1 L722.0 1028.6 L709.5 1031.1 L697.0 1032.3 L689.5 1028.6 L680.8 1021.1 L669.5 1024.8 L659.5 1031.1 L652.0 1039.8 L647.0 1052.3 L643.3 1067.3 L639.5 1082.3 L635.8 1094.8 L632.0 1107.3 L628.3 1119.8 L625.8 1128.6 L639.5 1129.8 L647.0 1124.8 L657.0 1117.3 L667.0 1109.8 L674.5 1099.8 L680.8 1089.8 L687.0 1087.3 L693.3 1093.6 L702.0 1084.8 L714.5 1074.8 L727.0 1064.8 L739.5 1057.3 L749.5 1049.8 L752.0 1052.3 L749.5 1064.8 L745.8 1077.3 L739.5 1089.8 L734.5 1102.3 L729.5 1114.8 L724.5 1127.3 L719.5 1137.3 L714.5 1147.3 L707.0 1157.3 L698.3 1166.1 L689.5 1174.8 L682.0 1181.1 L677.0 1184.8 L673.3 1192.3 L682.0 1197.3 L679.5 1203.6 L687.0 1208.6 L689.5 1214.8 L702.0 1213.6 L714.5 1211.1 L724.5 1208.6 L727.0 1217.3 L732.0 1222.3 L735.8 1234.8 L744.5 1238.6 L754.5 1234.8 L757.0 1239.8 L767.0 1232.3 L777.0 1227.3 L789.5 1223.6 L799.5 1217.3 L809.5 1216.1 L817.0 1213.6 L814.5 1219.8 L804.5 1224.8 L799.5 1234.8 L794.5 1247.3 L789.5 1259.8 L784.5 1272.3 L782.0 1284.8 L775.8 1294.8 L769.5 1302.3 L759.5 1309.8 L749.5 1319.8 L739.5 1329.8 L732.0 1337.3 L722.0 1344.8 L712.0 1349.8 L707.0 1359.8 L699.5 1364.8 L689.5 1369.8 L687.0 1379.8 L694.5 1384.8 L692.0 1392.3 L677.0 1392.3 L669.5 1397.3 L662.0 1402.3 L660.8 1407.3 L639.5 1406.1 L589.5 1409.8 L514.5 1422.3 L389.5 1434.8 L377.0 1434.8 L377.0 1309.8 L376.9 1286.7 L391.9 1287.9 L409.4 1286.7 L426.9 1285.4 L429.4 1276.7 L433.1 1264.2 L439.4 1249.2 L444.4 1234.2 L449.4 1221.7 L453.1 1211.7 L449.4 1204.2 L439.4 1205.4 L434.4 1201.7 L430.6 1191.7 L426.9 1181.7 L423.1 1174.2 L420.6 1166.7 L421.9 1156.7 L423.1 1150.4 L416.9 1154.2 L413.1 1161.7 L409.4 1151.7 L404.4 1141.7 L400.6 1135.4 L389.5 1084.8 L439.5 1009.8Z" fill="#6cafbc" stroke="#fff" stroke-width="2.0" stroke-linejoin="round"/>
<path d="M245.6 1277.9 L251.9 1277.9 L266.9 1280.4 L276.9 1286.7 L291.9 1286.7 L299.4 1287.9 L314.4 1284.2 L329.4 1282.9 L336.9 1287.9 L341.9 1297.9 L350.6 1301.7 L353.1 1294.2 L363.1 1286.7 L368.1 1281.7 L376.9 1286.7 L391.9 1287.9 L416.9 1287.9 L416.9 1451.7 L245.6 1451.7Z" fill="#6cafbc" stroke="none" stroke-width="2.0" stroke-linejoin="round"/>
<path d="M540.3 1566.4 L584.3 1555.4 L596.8 1557.9 L606.8 1552.9 L611.8 1545.4 L619.3 1542.9 L625.5 1531.7 L634.3 1537.9 L644.3 1545.4 L651.8 1550.4 L659.3 1540.4 L669.3 1527.9 L679.3 1517.9 L689.3 1507.9 L699.3 1500.4 L709.3 1495.4 L719.3 1494.2 L729.3 1495.4 L734.3 1496.7 L738.0 1505.4 L741.8 1515.4 L735.5 1521.7 L740.5 1529.2 L741.8 1537.9 L739.3 1547.9 L734.3 1555.4 L729.3 1562.9 L726.8 1567.9 L719.3 1575.4 L709.3 1582.9 L704.3 1590.4 L706.8 1597.9 L701.8 1605.4 L703.0 1612.9 L709.3 1619.2 L709.3 1632.9 L714.3 1637.9 L684.3 1710.4 L584.3 1735.4 L484.3 1735.4 L484.3 1610.4 L515.3 1587.7Z" fill="#6cafbc" stroke="#fff" stroke-width="2.0" stroke-linejoin="round"/>
<path d="M796.3 1646.7 L801.8 1645.4 L809.3 1646.7 L816.8 1649.2 L821.8 1655.4 L825.5 1662.9 L828.0 1670.4 L834.3 1677.9 L840.5 1685.4 L844.3 1695.4 L846.8 1707.9 L848.0 1720.4 L849.3 1732.9 L849.3 1747.9 L850.5 1760.4 L850.5 1885.4 L634.3 1885.4 L634.3 1747.9 L684.3 1710.4 L784.3 1635.4Z" fill="#6cafbc" stroke="#fff" stroke-width="2.0" stroke-linejoin="round"/>
<path d="M894.3 1514.2 L909.3 1511.7 L929.3 1510.4 L931.8 1520.4 L939.3 1527.9 L944.3 1535.4 L951.8 1537.9 L961.8 1542.9 L966.8 1550.4 L970.5 1540.4 L976.8 1537.9 L981.8 1545.4 L989.3 1550.4 L994.3 1549.2 L1034.3 1549.2 L1034.3 1620.4 L956.8 1620.4 L951.8 1615.4 L941.8 1610.4 L936.8 1607.9 L929.3 1612.9 L918.0 1617.9 L914.3 1610.4 L906.8 1602.9 L899.3 1596.7 L894.3 1592.9 L901.8 1585.4 L905.5 1575.4 L899.3 1565.4 L889.3 1557.9 L880.5 1552.9 L883.0 1540.4 L886.8 1527.9 L890.5 1519.2Z" fill="#6cafbc" stroke="#fff" stroke-width="2.0" stroke-linejoin="round"/>
<path d="M964.4 933.2 L981.9 931.9 L1001.9 930.7 L1021.9 929.4 L1031.9 934.4 L1041.9 945.7 L1054.4 939.4 L1064.4 931.9 L1076.9 929.4 L1090.7 933.2 L1090.7 954.4 L1096.9 961.9 L1099.4 974.4 L1100.7 984.4 L1091.9 991.9 L1090.7 999.4 L1074.4 1001.9 L1061.9 1004.4 L1054.4 1008.2 L1049.4 999.4 L1044.4 991.9 L1036.9 995.7 L1029.4 1004.4 L1021.9 1011.9 L1014.4 1011.9 L1006.9 1001.9 L996.9 994.4 L981.9 986.9 L964.4 979.4 L965.7 956.9Z" fill="#6cafbc" stroke="#fff" stroke-width="2.0" stroke-linejoin="round"/>
<path d="M1014.4 1011.9 L1021.9 1011.9 L1029.4 1004.4 L1036.9 995.7 L1044.4 991.9 L1049.4 999.4 L1054.4 1008.2 L1061.9 1004.4 L1074.4 1001.9 L1090.7 999.4 L1096.9 1011.9 L1101.9 1026.9 L1103.2 1041.9 L1104.4 1056.9 L1105.7 1060.7 L1089.4 1059.4 L1074.4 1055.7 L1059.4 1056.9 L1046.9 1060.7 L1031.9 1059.4 L1021.9 1054.4 L1013.2 1056.9 L1009.4 1051.9 L1004.4 1046.9 L1006.9 1031.9 L1010.7 1019.4Z" fill="#6cafbc" stroke="#fff" stroke-width="2.0" stroke-linejoin="round"/>
<path d="M995.7 1061.9 L1006.9 1064.4 L1016.9 1071.9 L1031.9 1076.9 L1041.9 1081.9 L1049.4 1089.4 L1039.4 1093.2 L1029.4 1096.9 L1016.9 1103.2 L1014.4 1109.4 L1004.4 1111.9 L986.9 1111.9 L974.4 1114.4 L956.9 1118.2 L953.2 1119.4 L959.4 1106.9 L966.9 1094.4 L974.4 1081.9 L984.4 1071.9 L991.9 1064.4Z" fill="#6cafbc" stroke="#fff" stroke-width="2.0" stroke-linejoin="round"/>
<path d="M956.9 1166.9 L964.4 1159.4 L974.4 1151.9 L976.9 1169.4 L996.9 1169.4 L1016.9 1168.2 L1036.9 1166.9 L1046.9 1166.9 L1051.9 1176.9 L1046.9 1181.9 L1039.4 1184.4 L1031.9 1191.9 L1029.4 1206.9 L1026.9 1219.4 L1021.9 1226.9 L1014.4 1229.4 L1006.9 1231.9 L1001.9 1246.9 L996.9 1256.9 L981.9 1251.9 L966.9 1249.4 L951.9 1244.4 L941.9 1239.4 L934.4 1238.2 L939.4 1224.4 L946.9 1206.9 L954.4 1194.4 L959.4 1181.9Z" fill="#6cafbc" stroke="#fff" stroke-width="2.0" stroke-linejoin="round"/>
<path d="M1146.9 1169.4 L1151.9 1161.9 L1156.9 1166.9 L1159.4 1176.9 L1156.9 1189.4 L1151.9 1199.4 L1144.4 1206.9 L1141.9 1219.4 L1141.9 1231.9 L1136.9 1241.9 L1134.4 1249.4 L1139.4 1254.4 L1149.4 1256.9 L1161.9 1261.9 L1164.4 1271.9 L1171.9 1281.9 L1179.4 1289.4 L1181.9 1301.9 L1181.9 1310.7 L1166.9 1306.9 L1151.9 1304.4 L1136.9 1301.9 L1121.9 1299.4 L1113.2 1296.9 L1114.4 1281.9 L1109.4 1269.4 L1099.4 1266.9 L1089.4 1269.4 L1086.9 1261.9 L1076.9 1259.4 L1069.4 1254.4 L1074.4 1246.9 L1081.9 1239.4 L1089.4 1229.4 L1096.9 1221.9 L1104.4 1214.4 L1109.4 1204.4 L1119.4 1199.4 L1126.9 1191.9 L1134.4 1184.4 L1141.9 1176.9Z" fill="#6cafbc" stroke="#fff" stroke-width="2.0" stroke-linejoin="round"/>
<path d="M1504.2 1031.7 L1512.9 1029.2 L1525.4 1033.0 L1540.4 1035.5 L1560.4 1038.0 L1581.7 1038.0 L1582.9 1053.0 L1581.7 1068.0 L1582.9 1083.0 L1584.2 1093.0 L1595.4 1094.2 L1605.4 1093.0 L1609.2 1099.2 L1602.9 1104.2 L1597.9 1110.5 L1602.9 1116.7 L1610.4 1118.0 L1612.9 1130.5 L1615.4 1143.0 L1616.7 1154.2 L1607.9 1156.7 L1585.4 1180.5 L1580.4 1184.2 L1567.9 1188.0 L1557.9 1190.5 L1552.9 1195.5 L1555.4 1203.0 L1556.7 1213.0 L1550.4 1220.5 L1545.4 1215.5 L1537.9 1209.2 L1530.4 1214.2 L1522.9 1208.0 L1515.4 1213.0 L1507.9 1210.5 L1500.4 1215.5 L1492.9 1218.0 L1482.9 1210.5 L1472.9 1203.0 L1462.9 1193.0 L1455.4 1185.5 L1445.4 1178.0 L1435.4 1170.5 L1427.9 1160.5 L1417.9 1150.5 L1407.9 1143.0 L1402.9 1138.0 L1410.4 1134.2 L1425.4 1130.5 L1440.4 1128.0 L1450.4 1124.2 L1457.9 1129.2 L1465.4 1125.5 L1477.9 1128.0 L1490.4 1129.2 L1489.2 1118.0 L1487.9 1105.5 L1485.4 1093.0 L1486.7 1080.5 L1492.9 1078.0 L1494.2 1068.0 L1497.9 1055.5 L1500.4 1043.0Z" fill="#6cafbc" stroke="#fff" stroke-width="2.0" stroke-linejoin="round"/>
<path d="M1667.9 890.5 L1675.4 895.5 L1685.4 900.5 L1691.7 905.5 L1690.4 915.5 L1680.4 928.0 L1670.4 940.5 L1660.4 953.0 L1652.9 960.5 L1647.9 965.5 L1657.9 968.0 L1667.9 965.5 L1675.4 970.5 L1674.2 978.0 L1682.9 983.0 L1690.4 990.5 L1697.9 995.5 L1710.4 990.5 L1725.4 988.0 L1737.9 985.5 L1745.4 988.0 L1750.4 978.0 L1755.4 973.0 L1785.4 968.0 L1785.4 893.0 L1667.9 868.0Z" fill="#6cafbc" stroke="#fff" stroke-width="2.0" stroke-linejoin="round"/>
<path d="M1289.6 1215.8 L1304.6 1224.6 L1324.6 1235.8 L1354.6 1252.1 L1379.6 1267.1 L1404.6 1283.3 L1429.6 1299.6 L1452.1 1314.6 L1479.6 1332.1 L1517.1 1349.6 L1504.6 1367.1 L1499.6 1369.6 L1489.6 1363.3 L1479.6 1365.8 L1474.6 1362.1 L1462.1 1365.8 L1440.8 1364.6 L1420.8 1363.3 L1404.6 1360.8 L1384.6 1360.8 L1377.1 1365.8 L1364.6 1369.6 L1349.6 1370.8 L1342.1 1369.6 L1337.1 1364.6 L1332.1 1358.3 L1337.1 1349.6 L1342.1 1342.1 L1344.6 1329.6 L1339.6 1322.1 L1335.8 1312.1 L1335.8 1322.1 L1324.6 1323.3 L1312.1 1327.1 L1302.1 1329.6 L1292.1 1335.8 L1282.1 1342.1 L1272.1 1349.6 L1262.1 1352.1 L1254.6 1357.1 L1249.6 1344.6 L1247.1 1329.6 L1242.1 1314.6 L1239.6 1299.6 L1237.1 1284.6 L1235.8 1269.6 L1249.6 1265.8 L1262.1 1264.6 L1265.8 1267.6 L1279.6 1265.8 L1289.6 1264.6 L1284.6 1254.6 L1280.8 1247.1 L1285.8 1237.1 L1287.1 1224.6Z" fill="#6cafbc" stroke="#fff" stroke-width="2.0" stroke-linejoin="round"/>
<path d="M1129.6 1509.6 L1139.6 1502.1 L1147.1 1497.1 L1159.6 1502.1 L1169.6 1499.6 L1179.6 1494.6 L1189.6 1489.6 L1202.1 1484.6 L1209.6 1477.1 L1210.8 1464.6 L1214.6 1454.6 L1227.1 1447.1 L1239.6 1440.8 L1254.6 1439.6 L1267.1 1442.1 L1265.8 1454.6 L1262.1 1467.1 L1257.1 1478.3 L1267.1 1479.6 L1268.3 1492.1 L1269.6 1509.6 L1267.1 1527.1 L1263.3 1534.6 L1272.1 1542.1 L1282.1 1547.1 L1287.1 1552.1 L1279.6 1562.1 L1269.6 1572.1 L1259.6 1579.6 L1254.6 1589.6 L1248.3 1587.6 L1238.3 1590.1 L1237.1 1605.1 L1235.8 1620.1 L1220.8 1617.6 L1205.8 1616.3 L1199.6 1617.6 L1195.8 1630.1 L1190.8 1640.1 L1185.8 1646.3 L1154.6 1654.6 L1104.6 1604.6 L1104.6 1509.6Z" fill="#6cafbc" stroke="#fff" stroke-width="2.0" stroke-linejoin="round"/>
<path d="M1340.2 1633.5 L1329.0 1639.8 L1321.5 1648.5 L1311.5 1657.3 L1301.5 1666.0 L1292.7 1674.8 L1287.7 1684.8 L1285.2 1693.5 L1246.5 1727.3 L1246.5 1777.3 L1371.5 1777.3 L1357.7 1687.3 L1346.5 1686.0 L1349.0 1672.3 L1351.5 1662.3 L1346.5 1649.8 L1342.7 1639.8Z" fill="#6cafbc" stroke="#fff" stroke-width="2.0" stroke-linejoin="round"/>
<path d="M1342.7 1634.8 L1351.5 1638.5 L1364.0 1643.5 L1379.0 1642.3 L1394.0 1639.8 L1406.5 1646.0 L1416.5 1652.3 L1426.5 1659.8 L1436.5 1664.8 L1440.2 1668.5 L1446.5 1727.3 L1357.7 1727.3 L1357.7 1687.3 L1346.5 1686.0 L1349.0 1672.3 L1351.5 1662.3 L1346.5 1649.8Z" fill="#6cafbc" stroke="#fff" stroke-width="2.0" stroke-linejoin="round"/>
<path d="M443.3 744.3 L448.3 741.8 L457.0 744.3 L473.3 751.8 L484.5 745.5 L493.3 749.3 L493.3 766.8 L504.5 770.5 L519.5 778.0 L529.5 781.8 L525.8 791.8 L522.0 804.3 L517.0 819.3 L513.3 828.0 L499.5 825.5 L484.5 823.0 L482.0 820.5 L467.0 819.3 L454.5 816.8 L453.3 806.8 L445.8 801.8 L443.3 789.3 L444.5 774.3 L442.0 759.3Z" fill="#d9ecf0" stroke="#fff" stroke-width="2.0" stroke-linejoin="round"/>
<path d="M464.5 1209.8 L467.0 1202.3 L474.5 1194.8 L482.0 1187.3 L489.5 1182.3 L499.5 1174.8 L507.0 1172.3 L509.5 1164.8 L514.5 1154.8 L522.0 1149.8 L529.5 1149.8 L537.0 1152.3 L544.5 1157.3 L552.0 1161.1 L557.0 1152.3 L562.0 1142.3 L564.5 1132.3 L569.5 1127.3 L589.5 1127.3 L609.5 1128.6 L625.8 1128.6 L639.5 1129.8 L640.8 1137.3 L632.0 1139.8 L627.0 1147.3 L622.0 1149.8 L614.5 1144.8 L604.5 1141.1 L593.3 1142.3 L589.5 1149.8 L584.5 1154.8 L578.3 1162.3 L574.5 1172.3 L572.0 1184.8 L569.5 1197.3 L567.0 1207.3 L569.5 1217.3 L568.3 1227.3 L569.5 1239.8 L569.5 1251.1 L564.5 1249.8 L559.5 1242.3 L552.0 1237.3 L544.5 1232.3 L537.0 1231.1 L534.5 1237.3 L528.3 1239.8 L528.3 1247.3 L524.5 1254.8 L517.0 1257.3 L512.0 1267.3 L505.8 1272.3 L507.0 1282.3 L502.0 1291.1 L492.0 1293.6 L482.0 1296.1 L474.5 1294.8 L469.5 1289.8 L472.0 1282.3 L474.5 1272.3 L478.3 1267.3 L479.5 1257.3 L474.5 1249.8 L464.5 1244.8 L457.0 1239.8 L458.3 1234.8 L462.0 1222.3Z" fill="#d9ecf0" stroke="#fff" stroke-width="2.0" stroke-linejoin="round"/>
<path d="M749.5 1049.8 L754.5 1039.8 L764.5 1029.8 L775.8 1033.6 L787.0 1032.3 L784.5 1044.8 L779.5 1059.8 L774.5 1074.8 L769.5 1089.8 L767.0 1104.8 L764.5 1119.8 L759.5 1132.3 L752.0 1142.3 L744.5 1149.8 L739.5 1159.8 L732.0 1167.3 L724.5 1172.3 L719.5 1182.3 L712.0 1189.8 L704.5 1197.3 L697.0 1204.8 L689.5 1214.8 L687.0 1208.6 L679.5 1203.6 L682.0 1197.3 L673.3 1192.3 L677.0 1184.8 L682.0 1181.1 L689.5 1174.8 L698.3 1166.1 L707.0 1157.3 L714.5 1147.3 L719.5 1137.3 L724.5 1127.3 L729.5 1114.8 L734.5 1102.3 L739.5 1089.8 L745.8 1077.3 L749.5 1064.8 L752.0 1052.3Z" fill="#d9ecf0" stroke="#fff" stroke-width="2.0" stroke-linejoin="round"/>
<path d="M785.8 1033.6 L799.5 1024.8 L812.0 1034.8 L814.5 1042.3 L824.5 1044.8 L834.5 1042.3 L847.0 1046.1 L857.0 1052.3 L855.8 1067.3 L854.5 1084.8 L853.3 1099.8 L849.5 1114.8 L844.5 1129.8 L839.5 1144.8 L834.5 1154.8 L827.0 1164.8 L819.5 1174.8 L812.0 1184.8 L804.5 1192.3 L797.0 1194.8 L789.5 1199.8 L782.0 1197.3 L787.0 1187.3 L792.0 1174.8 L789.5 1164.8 L787.0 1154.8 L782.0 1144.8 L779.5 1134.8 L775.8 1124.8 L772.0 1109.8 L769.5 1097.3 L767.0 1084.8 L772.0 1074.8 L777.0 1059.8 L782.0 1044.8Z" fill="#d9ecf0" stroke="#fff" stroke-width="2.0" stroke-linejoin="round"/>
<path d="M801.8 1645.4 L806.8 1632.9 L814.3 1625.4 L821.8 1617.9 L826.8 1607.9 L829.3 1600.4 L839.3 1595.4 L849.3 1590.4 L856.8 1585.4 L861.8 1581.7 L869.3 1586.7 L879.3 1592.9 L886.8 1595.4 L894.3 1592.9 L899.3 1596.7 L906.8 1602.9 L914.3 1610.4 L918.0 1617.9 L919.3 1622.9 L911.8 1632.9 L899.3 1640.4 L884.3 1647.9 L874.3 1651.7 L876.8 1657.9 L883.0 1665.4 L884.3 1675.4 L879.3 1685.4 L874.3 1695.4 L871.8 1705.4 L870.5 1715.4 L869.3 1729.2 L874.3 1732.9 L859.3 1747.9 L850.5 1760.4 L849.3 1747.9 L849.3 1732.9 L848.0 1720.4 L846.8 1707.9 L844.3 1695.4 L840.5 1685.4 L834.3 1677.9 L828.0 1670.4 L825.5 1662.9 L821.8 1655.4 L816.8 1649.2 L809.3 1646.7Z" fill="#d9ecf0" stroke="#fff" stroke-width="2.0" stroke-linejoin="round"/>
<path d="M1091.9 929.4 L1106.9 928.2 L1111.9 939.4 L1119.4 944.4 L1124.4 959.4 L1129.4 969.4 L1134.4 981.9 L1151.9 976.9 L1154.4 969.4 L1166.9 971.9 L1174.4 961.9 L1184.4 955.7 L1189.4 966.9 L1189.4 986.9 L1196.9 993.2 L1189.4 1004.4 L1184.4 1011.9 L1181.9 1031.9 L1179.4 1051.9 L1176.9 1071.9 L1171.9 1069.4 L1156.9 1064.4 L1139.4 1063.2 L1121.9 1064.4 L1105.7 1065.7 L1104.4 1056.9 L1103.2 1041.9 L1101.9 1026.9 L1096.9 1011.9 L1090.7 999.4 L1091.9 991.9 L1100.7 984.4 L1099.4 974.4 L1096.9 961.9 L1090.7 954.4 L1090.7 933.2Z" fill="#d9ecf0" stroke="#fff" stroke-width="2.0" stroke-linejoin="round"/>
<path d="M1046.9 1060.7 L1059.4 1056.9 L1074.4 1055.7 L1089.4 1059.4 L1105.7 1060.7 L1105.7 1065.7 L1103.2 1076.9 L1101.9 1091.9 L1096.9 1106.9 L1091.9 1121.9 L1089.4 1136.9 L1091.9 1149.4 L1081.9 1155.7 L1074.4 1151.9 L1069.4 1144.4 L1056.9 1136.9 L1044.4 1131.9 L1041.9 1124.4 L1049.4 1119.4 L1056.9 1111.9 L1064.4 1104.4 L1056.9 1096.9 L1049.4 1089.4 L1041.9 1081.9 L1031.9 1076.9 L1016.9 1071.9 L1006.9 1064.4 L995.7 1061.9 L996.9 1056.9 L1009.4 1051.9 L1013.2 1056.9 L1021.9 1054.4 L1031.9 1059.4Z" fill="#d9ecf0" stroke="#fff" stroke-width="2.0" stroke-linejoin="round"/>
<path d="M976.9 1119.4 L986.9 1111.9 L1004.4 1111.9 L1014.4 1109.4 L1016.9 1103.2 L1029.4 1096.9 L1039.4 1093.2 L1049.4 1089.4 L1056.9 1096.9 L1064.4 1104.4 L1056.9 1111.9 L1049.4 1119.4 L1041.9 1124.4 L1044.4 1131.9 L1041.9 1144.4 L1046.9 1156.9 L1046.9 1166.9 L1036.9 1166.9 L1016.9 1168.2 L996.9 1169.4 L976.9 1169.4 L978.2 1144.4Z" fill="#d9ecf0" stroke="#fff" stroke-width="2.0" stroke-linejoin="round"/>
<path d="M856.9 1181.9 L871.9 1179.4 L886.9 1178.2 L898.2 1179.4 L901.9 1186.9 L919.4 1186.9 L939.4 1189.4 L954.4 1194.4 L946.9 1206.9 L939.4 1224.4 L934.4 1238.2 L921.9 1243.2 L909.4 1249.4 L899.4 1261.9 L894.4 1276.9 L889.4 1291.9 L884.4 1286.9 L881.9 1271.9 L871.9 1266.9 L864.4 1259.4 L856.9 1254.4Z" fill="#d9ecf0" stroke="#fff" stroke-width="2.0" stroke-linejoin="round"/>
<path d="M1001.9 1246.9 L1006.9 1231.9 L1014.4 1229.4 L1021.9 1226.9 L1031.9 1231.9 L1039.4 1236.9 L1036.9 1246.9 L1035.7 1261.9 L1036.9 1276.9 L1034.4 1291.9 L1029.4 1306.9 L1021.9 1316.9 L1011.9 1324.4 L1006.9 1331.9 L1001.9 1321.9 L999.4 1306.9 L1001.9 1291.9 L1006.9 1276.9 L1004.4 1261.9Z" fill="#d9ecf0" stroke="#fff" stroke-width="2.0" stroke-linejoin="round"/>
<path d="M1156.9 1189.4 L1159.4 1176.9 L1166.9 1171.9 L1180.7 1174.4 L1184.4 1181.9 L1194.4 1179.4 L1196.9 1191.9 L1194.4 1206.9 L1191.9 1221.9 L1201.9 1231.9 L1214.4 1239.4 L1224.4 1244.4 L1226.9 1256.9 L1231.9 1269.4 L1231.9 1281.9 L1221.9 1286.9 L1206.9 1291.9 L1191.9 1295.7 L1181.9 1301.9 L1179.4 1289.4 L1171.9 1281.9 L1164.4 1271.9 L1161.9 1261.9 L1149.4 1256.9 L1139.4 1254.4 L1134.4 1249.4 L1136.9 1241.9 L1141.9 1231.9 L1141.9 1219.4 L1144.4 1206.9 L1151.9 1199.4Z" fill="#d9ecf0" stroke="#fff" stroke-width="2.0" stroke-linejoin="round"/>
<path d="M1266.9 1051.9 L1276.9 1036.9 L1286.9 1026.9 L1296.9 1029.4 L1306.9 1034.4 L1319.4 1036.9 L1325.4 1042.9 L1340.4 1050.4 L1352.9 1055.4 L1339.2 1060.4 L1342.9 1075.4 L1350.4 1087.9 L1335.4 1092.9 L1322.9 1097.9 L1315.4 1110.4 L1311.9 1109.4 L1294.4 1106.9 L1279.4 1109.4 L1266.9 1106.9 L1259.4 1096.9 L1261.9 1081.9 L1266.9 1069.4Z" fill="#d9ecf0" stroke="#fff" stroke-width="2.0" stroke-linejoin="round"/>
<path d="M1254.4 863.2 L1269.4 866.9 L1286.9 869.4 L1304.4 874.4 L1301.9 889.4 L1304.4 901.9 L1296.9 909.4 L1291.9 921.9 L1281.9 926.9 L1271.9 919.4 L1261.9 914.4 L1254.4 909.4 L1246.9 904.4 L1249.4 881.9Z" fill="#d9ecf0" stroke="#fff" stroke-width="2.0" stroke-linejoin="round"/>
<path d="M1480.4 1008.0 L1490.4 1000.5 L1502.9 993.0 L1515.4 985.5 L1525.4 975.5 L1535.4 965.5 L1547.9 966.7 L1560.4 968.0 L1572.9 970.5 L1585.4 975.5 L1600.4 978.0 L1615.4 976.7 L1630.4 975.5 L1637.9 974.2 L1635.4 983.0 L1630.4 993.0 L1625.4 1003.0 L1617.9 1013.0 L1616.7 1020.5 L1622.9 1025.5 L1610.4 1033.0 L1595.4 1035.5 L1581.7 1038.0 L1560.4 1038.0 L1540.4 1035.5 L1525.4 1033.0 L1512.9 1029.2 L1504.2 1031.7 L1497.9 1023.0 L1487.9 1015.5Z" fill="#d9ecf0" stroke="#fff" stroke-width="2.0" stroke-linejoin="round"/>
<path d="M1637.9 974.2 L1647.9 965.5 L1657.9 968.0 L1667.9 965.5 L1675.4 970.5 L1674.2 978.0 L1682.9 983.0 L1690.4 990.5 L1680.4 998.0 L1670.4 1005.5 L1660.4 1013.0 L1652.9 1020.5 L1645.4 1025.5 L1635.4 1028.0 L1625.4 1030.5 L1622.9 1025.5 L1616.7 1020.5 L1617.9 1013.0 L1625.4 1003.0 L1630.4 993.0 L1635.4 983.0Z" fill="#d9ecf0" stroke="#fff" stroke-width="2.0" stroke-linejoin="round"/>
<path d="M1624.2 1033.0 L1635.4 1028.0 L1645.4 1025.5 L1655.4 1030.5 L1667.9 1038.0 L1682.9 1045.5 L1697.9 1053.0 L1710.4 1060.5 L1720.4 1068.0 L1715.4 1075.5 L1705.4 1080.5 L1690.4 1083.0 L1675.4 1088.0 L1667.9 1093.0 L1660.4 1100.5 L1652.9 1095.5 L1645.4 1088.0 L1635.4 1085.5 L1629.2 1086.7 L1627.9 1068.0 L1625.4 1050.5Z" fill="#d9ecf0" stroke="#fff" stroke-width="2.0" stroke-linejoin="round"/>
<path d="M1315.4 1110.5 L1322.9 1098.0 L1335.4 1093.0 L1350.4 1088.0 L1362.9 1083.0 L1367.9 1095.5 L1375.4 1103.0 L1385.4 1108.0 L1395.4 1115.5 L1402.9 1118.0 L1407.9 1128.0 L1410.4 1134.2 L1402.9 1138.0 L1390.4 1140.5 L1380.4 1143.0 L1367.9 1145.5 L1355.4 1143.0 L1342.9 1140.5 L1327.9 1135.5 L1310.4 1133.0 L1295.4 1130.5 L1285.4 1129.2 L1285.4 1111.7 L1300.4 1110.5Z" fill="#d9ecf0" stroke="#fff" stroke-width="2.0" stroke-linejoin="round"/>
<path d="M1252.1 1379.6 L1262.1 1374.6 L1274.6 1372.1 L1289.6 1367.1 L1304.6 1368.3 L1319.6 1367.1 L1334.6 1365.8 L1338.3 1377.1 L1342.1 1389.6 L1337.1 1398.3 L1327.1 1404.6 L1322.1 1414.6 L1318.3 1422.1 L1312.1 1429.6 L1302.1 1439.6 L1292.1 1445.8 L1282.1 1448.3 L1284.6 1437.1 L1282.1 1424.6 L1277.1 1412.1 L1272.1 1402.1 L1262.1 1399.6 L1257.1 1389.6Z" fill="#d9ecf0" stroke="#fff" stroke-width="2.0" stroke-linejoin="round"/>
<path d="M1270.8 1447.1 L1282.1 1448.3 L1292.1 1445.8 L1302.1 1439.6 L1312.1 1429.6 L1319.6 1424.6 L1327.1 1429.6 L1329.6 1439.6 L1324.6 1452.1 L1319.6 1462.1 L1317.1 1472.1 L1327.1 1475.8 L1337.1 1479.6 L1329.6 1489.6 L1332.1 1499.6 L1339.6 1504.6 L1342.1 1514.6 L1329.6 1519.6 L1319.6 1527.1 L1304.6 1532.1 L1292.1 1534.6 L1279.6 1539.6 L1272.1 1542.1 L1263.3 1534.6 L1267.1 1527.1 L1269.6 1509.6 L1268.3 1492.1 L1267.1 1479.6 L1257.1 1478.3 L1262.1 1467.1 L1265.8 1454.6 L1267.1 1442.1Z" fill="#d9ecf0" stroke="#fff" stroke-width="2.0" stroke-linejoin="round"/>
<path d="M913.4 1307.5 L930.9 1298.8 L945.9 1300.0 L958.4 1296.2 L970.9 1292.5 L984.6 1283.8 L993.4 1291.2 L998.4 1295.0 L993.4 1297.5 L988.4 1302.5 L992.1 1312.5 L983.4 1320.0 L988.4 1327.5 L978.4 1337.5 L970.9 1347.5 L960.9 1355.0 L953.4 1362.5 L945.9 1360.0 L938.4 1355.0 L935.9 1345.0 L925.9 1342.5 L920.9 1332.5 L925.9 1325.0 L918.4 1317.5Z" fill="#d9ecf0" stroke="#fff" stroke-width="2.0" stroke-linejoin="round"/>
<path d="M860.3 1187.1 L856.1 1190.3 L849.0 1195.2 L844.2 1211.3 L839.4 1237.1 L849.0 1245.2 L857.1 1254.5 L861.9 1256.5Z" fill="#d9ecf0" stroke="none" stroke-width="2.0" stroke-linejoin="round"/>
<path d="M65.4 871.8 L106.7 881.8 L139.2 909.3 L152.9 909.3 L162.9 911.8 L170.4 904.3 L177.9 909.3 L180.4 916.8 L187.9 918.0 L195.4 924.3 L202.9 926.8 L217.9 919.3 L227.9 920.5 L240.4 916.8 L241.7 934.3 L244.2 951.8 L245.4 966.8 L246.7 979.3 L252.9 981.8 L265.4 989.3 L277.9 996.8 L285.4 1006.8 L295.4 1014.3 L301.7 1019.3 L305.4 1009.3 L309.2 1004.3 L317.9 989.3 L327.9 976.8 L342.9 970.5 L357.9 964.3 L365.4 956.8 L367.9 944.3 L369.2 928.0 L379.2 926.8 L392.9 925.5 L410.4 923.0 L416.7 916.8 L427.9 924.3 L442.9 929.3 L457.9 934.3 L464.2 940.5 L477.9 951.8 L490.4 964.3 L502.9 976.8 L509.2 981.8 L497.9 981.8 L490.4 994.3 L484.2 1004.3 L477.9 1014.3 L476.7 1024.3 L470.4 1031.8 L464.2 1041.8 L467.9 1049.3 L464.2 1056.8 L460.4 1067.3 L457.5 1066.0 L452.5 1076.0 L450.0 1083.5 L442.5 1086.0 L441.2 1098.5 L438.8 1108.5 L432.5 1116.0 L428.8 1123.5 L432.5 1126.0 L410.0 1128.5 L375.0 1129.8 L350.0 1128.5 L327.5 1129.8 L325.0 1141.0 L322.5 1151.0 L317.5 1158.5 L311.2 1151.0 L306.2 1153.5 L310.0 1166.0 L300.0 1163.5 L292.5 1162.2 L275.0 1161.0 L270.0 1156.0 L265.0 1154.8 L263.8 1146.0 L245.0 1143.5 L242.5 1141.0 L237.5 1142.2 L236.2 1151.0 L232.5 1152.2 L233.8 1158.5 L225.0 1166.0 L217.5 1178.5 L210.0 1188.5 L205.0 1198.5 L197.5 1202.2 L190.0 1199.8 L180.0 1196.0 L170.0 1199.8 L157.5 1199.8 L153.8 1198.5 L125.0 1216.0 L-12.5 1216.0 L-12.5 866.0Z" fill="#4e7a83" stroke="#fff" stroke-width="2.0" stroke-linejoin="round"/>
<path d="M507.0 609.3 L602.0 634.3 L602.0 648.0 L598.3 656.8 L593.3 664.3 L589.5 670.5 L587.0 681.8 L583.3 689.3 L584.5 703.0 L574.5 698.0 L567.0 696.8 L555.8 694.3 L552.0 701.8 L552.0 711.8 L545.8 716.8 L543.3 731.8 L539.5 744.3 L535.8 756.8 L532.0 764.3 L525.8 773.0 L519.5 778.0 L504.5 770.5 L493.3 766.8 L493.3 749.3 L484.5 745.5 L473.3 751.8 L482.0 734.3 L488.3 716.8 L489.5 704.3 L498.3 691.8 L500.8 671.8 L502.0 654.3 L504.5 636.8Z" fill="#4e7a83" stroke="#fff" stroke-width="2.0" stroke-linejoin="round"/>
<path d="M750.5 1346.7 L764.3 1341.7 L778.0 1349.2 L781.8 1357.9 L784.3 1365.4 L791.8 1350.4 L799.3 1341.7 L810.5 1346.7 L815.5 1357.9 L820.5 1365.4 L834.3 1360.4 L849.3 1356.7 L859.3 1370.4 L874.3 1377.9 L884.3 1384.2 L879.3 1392.9 L864.3 1395.4 L849.3 1395.4 L836.8 1402.9 L824.3 1412.9 L809.3 1420.4 L801.8 1427.9 L809.3 1435.4 L816.8 1445.4 L824.3 1457.9 L830.5 1464.2 L821.8 1470.4 L824.3 1482.9 L831.8 1486.7 L828.0 1492.9 L816.8 1495.4 L809.3 1502.9 L804.3 1515.4 L794.3 1520.4 L781.8 1525.4 L766.8 1529.2 L754.3 1530.4 L741.8 1537.9 L740.5 1529.2 L735.5 1521.7 L741.8 1515.4 L738.0 1505.4 L734.3 1495.4 L735.5 1487.9 L744.3 1480.4 L754.3 1472.9 L750.5 1465.4 L744.3 1457.9 L749.3 1447.9 L748.0 1435.4 L744.3 1425.4 L749.3 1415.4 L756.8 1402.9 L749.3 1392.9 L744.3 1382.9 L746.8 1372.9 L759.3 1370.4 L766.8 1369.2 L768.0 1360.4 L759.3 1354.2Z" fill="#4e7a83" stroke="#fff" stroke-width="2.0" stroke-linejoin="round"/>
<path d="M709.3 1619.2 L719.3 1612.9 L734.3 1615.4 L749.3 1619.2 L764.3 1625.4 L776.8 1632.9 L786.8 1640.4 L794.3 1647.9 L796.3 1660.4 L795.5 1685.4 L794.3 1710.4 L795.5 1735.4 L793.0 1755.4 L786.8 1765.4 L776.8 1771.7 L764.3 1770.4 L754.3 1765.4 L746.8 1757.9 L744.3 1750.4 L746.8 1735.4 L744.3 1725.4 L739.3 1715.4 L726.8 1714.2 L714.3 1715.4 L709.3 1721.7 L701.8 1720.4 L694.3 1719.2 L684.3 1725.4 L680.5 1732.9 L679.3 1743.9 L674.8 1756.4 L671.3 1772.9 L659.3 1772.9 L654.3 1761.7 L644.3 1760.4 L640.5 1754.2 L636.8 1750.4 L626.8 1757.9 L609.3 1770.4 L584.3 1790.4 L534.3 1860.4 L534.3 1760.4 L584.3 1710.4 L584.3 1675.4 L603.0 1682.9 L606.8 1685.4 L616.8 1687.9 L629.3 1685.4 L641.8 1681.7 L654.3 1675.4 L666.8 1667.9 L679.3 1660.4 L691.8 1652.9 L704.3 1645.4 L714.3 1637.9 L709.3 1632.9Z" fill="#4e7a83" stroke="#fff" stroke-width="2.0" stroke-linejoin="round"/>
<path d="M874.3 1651.7 L884.3 1647.9 L899.3 1640.4 L911.8 1632.9 L919.3 1622.9 L918.0 1617.9 L929.3 1612.9 L936.8 1607.9 L941.8 1610.4 L951.8 1615.4 L956.8 1620.4 L984.3 1620.4 L984.3 1760.4 L874.3 1760.4 L874.3 1732.9 L869.3 1729.2 L870.5 1715.4 L871.8 1705.4 L874.3 1695.4 L879.3 1685.4 L884.3 1675.4 L883.0 1665.4 L876.8 1657.9Z" fill="#4e7a83" stroke="#fff" stroke-width="2.0" stroke-linejoin="round"/>
<path d="M1105.7 1065.7 L1121.9 1064.4 L1139.4 1063.2 L1156.9 1064.4 L1171.9 1069.4 L1176.9 1071.9 L1173.2 1079.4 L1166.9 1089.4 L1169.4 1101.9 L1166.9 1111.9 L1170.7 1116.9 L1176.9 1119.4 L1181.9 1131.9 L1179.4 1141.9 L1181.9 1146.9 L1191.9 1150.7 L1206.9 1154.4 L1216.9 1159.4 L1214.4 1166.9 L1218.2 1173.2 L1216.9 1179.4 L1211.9 1184.4 L1205.7 1190.7 L1201.9 1184.4 L1194.4 1179.4 L1184.4 1181.9 L1180.7 1174.4 L1171.9 1170.7 L1161.9 1168.2 L1156.9 1164.4 L1151.9 1161.9 L1146.9 1169.4 L1134.4 1168.2 L1123.2 1168.2 L1121.9 1156.9 L1125.7 1149.4 L1111.9 1148.2 L1091.9 1149.4 L1089.4 1136.9 L1091.9 1121.9 L1096.9 1106.9 L1101.9 1091.9 L1103.2 1076.9Z" fill="#4e7a83" stroke="#fff" stroke-width="2.0" stroke-linejoin="round"/>
<path d="M1500.4 868.0 L1550.4 863.0 L1550.4 874.2 L1554.2 890.5 L1555.4 905.5 L1554.2 923.0 L1550.4 938.0 L1544.2 953.0 L1535.4 965.5 L1525.4 975.5 L1512.9 985.5 L1500.4 993.0 L1485.4 1001.7 L1475.4 1008.0 L1465.4 1013.0 L1450.4 1018.0 L1435.4 1023.0 L1425.4 1028.0 L1414.2 1034.2 L1412.9 1025.5 L1420.4 1018.0 L1424.2 1010.5 L1427.9 1000.5 L1435.4 990.5 L1440.4 980.5 L1445.4 970.5 L1451.7 961.7 L1455.4 965.5 L1465.4 963.0 L1475.4 950.5 L1482.9 938.0 L1490.4 923.0 L1495.4 908.0 L1497.9 893.0 L1500.4 880.5Z" fill="#4e7a83" stroke="#fff" stroke-width="2.0" stroke-linejoin="round"/>
<path d="M379.2 926.8 L375.4 944.3 L374.2 956.8 L365.4 969.3 L359.2 979.3 L357.5 978.5 L363.8 991.0 L362.5 1003.5 L360.0 1016.0 L362.5 1028.5 L370.0 1041.0 L380.0 1048.5 L395.0 1046.0 L410.0 1043.5 L420.0 1048.5 L435.0 1051.0 L450.0 1058.5 L457.5 1066.0" fill="none" stroke="#fff" stroke-width="2.0" stroke-linejoin="round" stroke-linecap="round"/>
<path d="M245.6 1277.9 L251.9 1277.9 L266.9 1280.4 L276.9 1286.7 L291.9 1286.7 L299.4 1287.9 L314.4 1284.2 L329.4 1282.9 L336.9 1287.9 L341.9 1297.9 L350.6 1301.7 L353.1 1294.2 L363.1 1286.7 L368.1 1281.7 L376.9 1286.7 L391.9 1287.9" fill="none" stroke="#fff" stroke-width="2.0" stroke-linejoin="round" stroke-linecap="round"/>
<path d="M310.6 1169.2 L306.9 1176.7 L300.6 1186.7 L295.6 1201.7 L291.9 1219.2 L299.4 1229.2 L305.6 1241.7 L311.9 1254.2 L316.9 1266.7 L318.1 1272.9 L309.4 1279.2 L299.4 1285.4" fill="none" stroke="#fff" stroke-width="2.0" stroke-linejoin="round" stroke-linecap="round"/>
<path d="M326.9 1141.7 L329.4 1159.2 L330.6 1174.2 L331.9 1186.7 L340.6 1187.9 L346.9 1182.9 L356.9 1187.9 L366.9 1191.7 L371.9 1195.4 L379.4 1196.7 L386.9 1206.7 L391.9 1214.2 L396.9 1221.7 L404.4 1216.7 L410.6 1211.7 L420.6 1209.2 L424.4 1201.7 L434.4 1201.7" fill="none" stroke="#fff" stroke-width="2.0" stroke-linejoin="round" stroke-linecap="round"/>
<path d="M651.8 1550.4 L649.3 1560.4 L644.3 1572.9 L638.0 1585.4 L631.8 1597.9 L626.8 1610.4 L621.8 1622.9 L616.8 1635.4 L613.0 1647.9 L610.5 1660.4 L608.0 1675.4 L606.8 1685.4" fill="none" stroke="#fff" stroke-width="2.0" stroke-linejoin="round" stroke-linecap="round"/>
<path d="M830.5 1464.2 L844.3 1475.4 L859.3 1482.9 L871.8 1487.9 L884.3 1495.4 L894.3 1502.9 L904.3 1510.4 L894.3 1514.2" fill="none" stroke="#fff" stroke-width="2.0" stroke-linejoin="round" stroke-linecap="round"/>
<path d="M884.3 1384.2 L894.3 1377.9 L909.3 1372.9 L921.8 1370.4 L934.3 1367.9 L944.3 1370.4 L951.8 1380.4 L959.3 1387.9 L956.8 1397.9 L949.3 1405.4 L951.8 1415.4 L956.8 1425.4 L959.3 1435.4 L954.3 1445.4 L946.8 1455.4 L939.3 1465.4 L934.3 1475.4 L933.0 1485.4 L936.8 1495.4 L934.3 1505.4 L929.3 1510.4" fill="none" stroke="#fff" stroke-width="2.0" stroke-linejoin="round" stroke-linecap="round"/>
<path d="M1335.8 1312.1 L1347.1 1309.6 L1362.1 1304.6 L1377.1 1307.1 L1394.6 1312.1 L1409.6 1319.6 L1428.3 1327.1" fill="none" stroke="#fff" stroke-width="2.0" stroke-linejoin="round" stroke-linecap="round"/>
<path d="M1439.6 1304.6 L1432.1 1319.6 L1427.1 1334.6 L1422.1 1349.6 L1420.8 1363.3" fill="none" stroke="#fff" stroke-width="2.0" stroke-linejoin="round" stroke-linecap="round"/>
<path d="M1075.9 1373.8 L1078.4 1357.5 L1082.1 1342.5 L1085.9 1330.0 L1100.9 1327.5 L1103.4 1312.5 L1110.9 1306.2 L1122.1 1305.0 L1127.1 1312.5 L1125.9 1322.5 L1135.9 1327.5 L1145.9 1337.5 L1155.9 1347.5 L1165.9 1352.5 L1175.9 1360.0 L1180.9 1367.5 L1195.9 1370.0 L1210.9 1373.8 L1223.4 1377.5 L1230.9 1362.5 L1240.9 1372.5 L1250.9 1380.0" fill="none" stroke="#fff" stroke-width="2.0" stroke-linejoin="round" stroke-linecap="round"/>
<path d="M1083.4 1393.8 L1070.9 1395.0 L1058.4 1397.5 L1055.9 1407.5 L1045.9 1412.5 L1030.9 1420.0 L1018.4 1422.5 L1028.4 1427.5 L1045.9 1431.2 L1043.4 1445.0 L1038.4 1460.0 L1045.9 1470.0 L1043.4 1482.5 L1048.4 1490.0" fill="none" stroke="#fff" stroke-width="2.0" stroke-linejoin="round" stroke-linecap="round"/>
<path d="M995.9 1306.2 L993.4 1320.0 L983.4 1332.5 L970.9 1347.5" fill="none" stroke="#fff" stroke-width="2.0" stroke-linejoin="round" stroke-linecap="round"/>
<path d="M895.9 1380.0 L908.4 1372.5 L920.9 1367.5 L938.4 1357.5" fill="none" stroke="#fff" stroke-width="2.0" stroke-linejoin="round" stroke-linecap="round"/>
<path d="M1336.5 1479.8 L1359.0 1478.5 L1386.5 1479.8 L1410.2 1486.0 L1421.5 1477.3 L1436.5 1464.8 L1446.5 1447.3 L1454.0 1437.3 L1466.5 1441.0 L1476.5 1444.8 L1480.2 1427.3" fill="none" stroke="#fff" stroke-width="2.0" stroke-linejoin="round" stroke-linecap="round"/>
<path d="M1410.2 1486.0 L1434.0 1488.5 L1459.0 1491.0 L1484.0 1496.0 L1504.0 1502.3 L1510.2 1499.8" fill="none" stroke="#fff" stroke-width="2.0" stroke-linejoin="round" stroke-linecap="round"/>
<path d="M1410.2 1486.0 L1419.0 1494.8 L1424.0 1504.8 L1419.0 1514.8 L1409.0 1522.3 L1399.0 1532.3 L1389.0 1542.3 L1379.0 1549.8 L1366.5 1557.3 L1359.0 1567.3 L1356.5 1574.8" fill="none" stroke="#fff" stroke-width="2.0" stroke-linejoin="round" stroke-linecap="round"/>
<path d="M1356.5 1574.8 L1371.5 1579.8 L1386.5 1584.8 L1394.0 1592.3 L1406.5 1594.8 L1416.5 1599.8 L1425.2 1599.8 L1446.5 1597.3 L1471.5 1596.0 L1486.5 1599.8 L1506.5 1599.8" fill="none" stroke="#fff" stroke-width="2.0" stroke-linejoin="round" stroke-linecap="round"/>
<path d="M1425.2 1599.8 L1421.5 1614.8 L1424.0 1627.3 L1429.0 1639.8 L1431.5 1652.3 L1429.0 1661.0 L1440.2 1667.3" fill="none" stroke="#fff" stroke-width="2.0" stroke-linejoin="round" stroke-linecap="round"/>
<path d="M1356.5 1574.8 L1354.0 1589.8 L1351.5 1604.8 L1346.5 1614.8 L1339.0 1624.8 L1340.2 1633.5" fill="none" stroke="#fff" stroke-width="2.0" stroke-linejoin="round" stroke-linecap="round"/>
<path d="M1246.5 1594.8 L1259.0 1599.8 L1271.5 1593.5 L1284.0 1599.8 L1296.5 1604.8 L1311.5 1602.3 L1321.5 1614.8 L1331.5 1622.3 L1339.0 1624.8" fill="none" stroke="#fff" stroke-width="2.0" stroke-linejoin="round" stroke-linecap="round"/>
<path d="M1249.0 1588.5 L1256.5 1577.3 L1271.5 1574.8 L1281.5 1562.3 L1281.5 1542.3" fill="none" stroke="#fff" stroke-width="2.0" stroke-linejoin="round" stroke-linecap="round"/>
<path d="M1055.9 845.1 L1054.6 860.1 L1050.9 872.6 L1035.9 877.6 L1030.9 885.1 L1020.9 887.6 L1013.4 895.1 L1005.9 902.6 L1000.9 910.1 L1003.4 920.1 L1005.9 930.1" fill="none" stroke="#fff" stroke-width="2.0" stroke-linejoin="round" stroke-linecap="round"/>
<path d="M1123.4 851.3 L1122.1 870.1 L1119.6 890.1 L1115.9 910.1 L1114.6 925.1 L1118.4 935.1" fill="none" stroke="#fff" stroke-width="2.0" stroke-linejoin="round" stroke-linecap="round"/>
<path d="M1090.9 932.6 L1103.4 925.1 L1110.9 930.1 L1115.9 937.6 L1120.9 947.6 L1125.9 960.1 L1133.4 970.1 L1130.9 977.6" fill="none" stroke="#fff" stroke-width="2.0" stroke-linejoin="round" stroke-linecap="round"/>
<path d="M1263.4 940.1 L1255.9 947.6 L1240.9 942.6 L1230.9 947.6 L1225.9 957.6 L1218.4 965.1 L1210.9 972.6 L1205.9 980.1 L1210.9 990.1 L1218.4 995.1 L1220.9 1010.1 L1225.9 1015.1 L1223.4 1027.6 L1230.9 1032.6 L1243.4 1035.1 L1255.9 1037.6 L1268.4 1035.1 L1278.4 1027.6" fill="none" stroke="#fff" stroke-width="2.0" stroke-linejoin="round" stroke-linecap="round"/>
<path d="M1205.9 980.1 L1195.9 990.1 L1188.4 1000.1 L1184.6 1010.1" fill="none" stroke="#fff" stroke-width="2.0" stroke-linejoin="round" stroke-linecap="round"/>
<path d="M1263.4 940.1 L1268.4 952.6 L1265.9 962.6 L1275.9 967.6 L1285.9 975.1 L1293.4 985.1 L1288.4 997.6 L1285.9 1010.1 L1280.9 1020.1 L1278.4 1027.6" fill="none" stroke="#fff" stroke-width="2.0" stroke-linejoin="round" stroke-linecap="round"/>
<path d="M1295.9 915.1 L1305.9 912.6 L1320.9 910.1 L1340.9 912.6 L1335.9 925.1 L1328.4 935.1 L1320.9 945.1 L1313.4 955.1 L1305.9 962.6 L1295.9 980.1 L1293.4 985.1" fill="none" stroke="#fff" stroke-width="2.0" stroke-linejoin="round" stroke-linecap="round"/>
<path d="M1308.4 870.1 L1305.9 890.1 L1320.9 895.1 L1345.9 905.1 L1358.4 910.1" fill="none" stroke="#fff" stroke-width="2.0" stroke-linejoin="round" stroke-linecap="round"/>
<path d="M914.6 878.8 L910.9 895.1 L908.4 915.1 L903.4 930.1 L900.9 947.6 L895.9 965.1" fill="none" stroke="#fff" stroke-width="2.0" stroke-linejoin="round" stroke-linecap="round"/>
<path d="M895.9 981.3 L913.4 983.8 L928.4 980.1 L945.9 978.8 L963.4 977.6" fill="none" stroke="#fff" stroke-width="2.0" stroke-linejoin="round" stroke-linecap="round"/>
<path d="M963.4 935.1 L964.6 952.6 L963.4 977.6 L978.4 983.8 L995.9 992.6 L1008.4 1002.6 L1015.9 1011.3" fill="none" stroke="#fff" stroke-width="2.0" stroke-linejoin="round" stroke-linecap="round"/>
<path d="M918.4 987.6 L913.4 1002.6 L908.4 1020.1 L903.4 1040.1 L898.4 1055.1" fill="none" stroke="#fff" stroke-width="2.0" stroke-linejoin="round" stroke-linecap="round"/>
<path d="M1784.0 1093.4 L1794.0 1095.9 L1797.8 1108.4 L1794.0 1115.9 L1799.0 1125.9 L1801.5 1135.9 L1797.8 1150.9 L1804.0 1155.9 L1809.0 1170.9 L1816.5 1173.4 L1819.0 1177.1" fill="none" stroke="#fff" stroke-width="2.0" stroke-linejoin="round" stroke-linecap="round"/>
<path d="M1692.7 1166.4 L1696.5 1150.9 L1706.5 1143.4 L1714.0 1135.9 L1721.5 1130.9" fill="none" stroke="#fff" stroke-width="2.0" stroke-linejoin="round" stroke-linecap="round"/>
<path d="M364.2 650.5 L367.9 659.3 L369.2 669.3 L361.7 671.8 L367.9 681.8 L370.4 694.3 L367.9 706.8 L365.4 719.3 L362.9 731.8 L357.9 744.3 L354.2 756.8 L360.4 764.3 L352.9 776.8 L345.4 781.8 L327.9 786.8 L316.7 791.8 L307.9 784.3 L299.2 774.3 L295.4 766.8 L284.2 764.3" fill="none" stroke="#fff" stroke-width="2.0" stroke-linejoin="round" stroke-linecap="round"/>
<path d="M360.4 764.3 L372.9 759.3 L390.4 756.8 L410.4 759.3 L429.2 756.8" fill="none" stroke="#fff" stroke-width="2.0" stroke-linejoin="round" stroke-linecap="round"/>
<path d="M275.4 775.5 L277.9 784.3 L285.4 789.3 L290.4 796.8 L297.9 801.8 L307.9 806.8 L317.9 814.3 L327.9 819.3 L330.4 824.3" fill="none" stroke="#fff" stroke-width="2.0" stroke-linejoin="round" stroke-linecap="round"/>
<path d="M205.4 804.3 L204.2 816.8 L205.4 828.0 L217.9 829.3 L232.9 830.5 L247.9 828.0 L262.9 826.8 L282.9 825.5 L302.9 825.5 L317.9 825.5 L330.4 824.3" fill="none" stroke="#fff" stroke-width="2.0" stroke-linejoin="round" stroke-linecap="round"/>
<path d="M262.9 826.8 L252.9 830.5 L247.9 834.3 L242.9 844.3 L240.4 859.3 L239.2 874.3 L237.9 889.3 L237.9 906.8 L240.4 916.8" fill="none" stroke="#fff" stroke-width="2.0" stroke-linejoin="round" stroke-linecap="round"/>
<path d="M330.4 824.3 L330.4 839.3 L327.9 854.3 L330.4 869.3 L332.9 881.8 L336.7 888.0 L331.7 894.3 L331.7 906.8" fill="none" stroke="#fff" stroke-width="2.0" stroke-linejoin="round" stroke-linecap="round"/>
<path d="M227.9 901.8 L237.9 906.8 L250.4 909.3 L255.4 905.5 L262.9 914.3 L275.4 915.5 L285.4 914.3 L292.9 921.8 L297.9 926.8 L307.9 925.5 L312.9 919.3 L315.4 911.8 L331.7 906.8 L342.9 909.3 L350.4 901.8 L360.4 896.8 L367.9 894.3 L372.9 899.3 L377.9 909.3 L384.2 914.3 L381.7 926.8" fill="none" stroke="#fff" stroke-width="2.0" stroke-linejoin="round" stroke-linecap="round"/>
<path d="M757.0 764.3 L752.0 774.3 L750.8 789.3 L747.0 804.3 L744.5 819.3 L742.0 834.3 L739.5 841.8" fill="none" stroke="#fff" stroke-width="2.0" stroke-linejoin="round" stroke-linecap="round"/>
<path d="M677.0 810.5 L689.5 814.3 L702.0 820.5 L709.5 824.3 L714.5 831.8 L727.0 836.8 L739.5 841.8 L742.0 854.3 L749.5 859.3 L764.5 864.3 L779.5 868.0 L794.5 869.3 L809.5 865.5 L824.5 863.0 L837.0 863.0" fill="none" stroke="#fff" stroke-width="2.0" stroke-linejoin="round" stroke-linecap="round"/>
<path d="M847.0 796.8 L845.8 814.3 L847.0 829.3 L843.3 844.3 L839.5 856.8 L837.0 863.0" fill="none" stroke="#fff" stroke-width="2.0" stroke-linejoin="round" stroke-linecap="round"/>
<path d="M742.0 854.3 L732.0 854.3 L720.8 856.8 L718.3 866.8 L714.5 874.3 L709.5 881.8 L704.5 891.8 L703.3 904.3 L714.5 909.3 L727.0 916.8 L728.3 931.8 L729.5 939.3" fill="none" stroke="#fff" stroke-width="2.0" stroke-linejoin="round" stroke-linecap="round"/>
<path d="M824.5 863.0 L823.3 879.3 L822.0 896.8 L823.3 914.3 L822.0 931.8 L819.5 954.3 L818.3 974.3" fill="none" stroke="#fff" stroke-width="2.0" stroke-linejoin="round" stroke-linecap="round"/>
<path d="M544.5 971.8 L542.0 984.8 L544.5 997.3 L539.5 1009.8 L538.3 1022.3 L542.0 1034.8 L544.5 1047.3 L542.0 1059.8 L544.5 1064.8 L549.5 1071.1 L564.5 1074.8 L579.5 1078.6 L589.5 1082.3 L599.5 1079.8 L604.5 1073.6 L614.5 1072.3 L622.0 1079.8 L629.5 1084.8 L633.3 1094.8 L635.8 1094.8" fill="none" stroke="#fff" stroke-width="2.0" stroke-linejoin="round" stroke-linecap="round"/>
<path d="M449.5 1061.1 L457.0 1067.3 L459.5 1077.3 L467.0 1079.8 L472.0 1089.8 L479.5 1097.3 L487.0 1107.3 L494.5 1109.8 L499.5 1104.8 L504.5 1109.8 L512.0 1107.3 L513.3 1099.8 L507.0 1097.3 L499.5 1094.8 L494.5 1091.1 L497.0 1087.3 L507.0 1089.8 L514.5 1094.8 L524.5 1097.3 L529.5 1089.8 L537.0 1082.3 L540.8 1074.8 L544.5 1064.8" fill="none" stroke="#fff" stroke-width="2.0" stroke-linejoin="round" stroke-linecap="round"/>
<path d="M512.0 1107.3 L514.5 1114.8 L509.5 1124.8 L507.0 1134.8 L509.5 1147.3 L514.5 1154.8" fill="none" stroke="#fff" stroke-width="2.0" stroke-linejoin="round" stroke-linecap="round"/>
<path d="M679.5 947.3 L678.3 949.8 L674.5 962.3 L670.8 974.8 L667.0 988.6 L665.8 998.6 L669.5 1003.6 L674.5 1012.3 L680.8 1021.1" fill="none" stroke="#fff" stroke-width="2.0" stroke-linejoin="round" stroke-linecap="round"/>
<path d="M1056.0 843.0 L1053.5 873.0 L1048.5 883.0 L1031.0 888.0 L1016.0 898.0 L1001.0 908.0 L1006.0 928.0" fill="none" stroke="#fff" stroke-width="2.0" stroke-linejoin="round" stroke-linecap="round"/>
<path d="M1123.5 853.0 L1121.0 883.0 L1116.0 913.0 L1118.5 933.0" fill="none" stroke="#fff" stroke-width="2.0" stroke-linejoin="round" stroke-linecap="round"/>
<path d="M1253.5 865.5 L1246.0 893.0 L1243.5 918.0 L1266.0 923.0 L1261.0 943.0 L1246.0 948.0 L1231.0 953.0 L1221.0 970.5 L1211.0 978.0 L1216.0 998.0 L1221.0 1023.0 L1236.0 1038.0 L1266.0 1033.0 L1281.0 1028.0" fill="none" stroke="#fff" stroke-width="2.0" stroke-linejoin="round" stroke-linecap="round"/>
<path d="M1311.0 868.0 L1308.5 898.0 L1301.0 918.0 L1293.5 933.0 L1271.0 935.5 L1266.0 948.0 L1271.0 963.0 L1291.0 978.0 L1296.0 993.0" fill="none" stroke="#fff" stroke-width="2.0" stroke-linejoin="round" stroke-linecap="round"/>
<path d="M1341.0 910.5 L1326.0 933.0 L1316.0 953.0 L1311.0 963.0 L1296.0 993.0 L1286.0 1013.0 L1281.0 1028.0 L1296.0 1030.5 L1316.0 1038.0 L1341.0 1053.0 L1346.0 1068.0 L1361.0 1083.0 L1366.0 1093.0" fill="none" stroke="#fff" stroke-width="2.0" stroke-linejoin="round" stroke-linecap="round"/>
<path d="M1396.0 893.0 L1393.5 923.0 L1391.0 948.0 L1396.0 970.5 L1406.0 993.0 L1411.0 1013.0 L1406.0 1028.0 L1396.0 1038.0 L1366.0 1043.0 L1341.0 1053.0" fill="none" stroke="#fff" stroke-width="2.0" stroke-linejoin="round" stroke-linecap="round"/>
<path d="M1501.0 1023.0 L1498.5 1048.0 L1493.5 1068.0 L1491.0 1083.0" fill="none" stroke="#fff" stroke-width="2.0" stroke-linejoin="round" stroke-linecap="round"/>
<path d="M1261.0 1118.0 L1276.0 1128.0 L1316.0 1133.0 L1361.0 1138.0 L1386.0 1133.0 L1401.0 1138.0" fill="none" stroke="#fff" stroke-width="2.0" stroke-linejoin="round" stroke-linecap="round"/>
<path d="M1276.0 1128.0 L1276.0 1160.5 L1316.0 1165.5 L1346.0 1163.0 L1366.0 1178.0 L1386.0 1168.0 L1401.0 1183.0 L1411.0 1203.0" fill="none" stroke="#fff" stroke-width="2.0" stroke-linejoin="round" stroke-linecap="round"/>
<path d="M1276.0 1160.5 L1281.0 1183.0 L1286.0 1208.0 L1316.0 1223.0 L1341.0 1233.0" fill="none" stroke="#fff" stroke-width="2.0" stroke-linejoin="round" stroke-linecap="round"/>
</g>
<path d="M95.8 754.2 L105.0 740.5 L120.0 725.5 L135.0 709.2 L150.0 695.5 L165.0 680.5 L180.0 663.5 L197.5 649.2 L215.0 643.0 L237.5 639.2 L262.5 637.5 L287.5 636.0 L312.5 634.2 L337.5 633.0 L357.5 631.0 L370.0 629.2 L385.0 623.0 L397.5 621.0 L410.0 623.8 L420.0 626.2 L428.8 625.0 L435.5 622.0 L438.8 617.5 L442.0 623.5 L448.8 626.0 L457.5 628.0 L467.5 629.2 L483.0 627.5 L493.0 623.8 L508.0 626.0 L533.0 629.2 L558.0 633.0 L578.0 638.0 L593.0 644.2 L605.5 646.8 L614.2 654.2 L619.2 661.8 L620.5 668.0 L630.5 676.8 L643.0 688.0 L655.5 696.8 L663.0 704.2 L678.0 714.2 L695.5 726.8 L708.0 735.5 L723.0 744.2 L740.5 754.2 L758.0 763.0 L783.0 774.2 L808.0 784.2 L833.0 794.2 L858.0 801.8 L883.0 808.0 L908.0 813.0 L923.0 816.8 L933.0 817.5 L943.0 818.0 L966.0 820.5 L991.0 825.5 L1016.0 830.5 L1027.2 834.2 L1031.0 833.0 L1032.2 836.8 L1066.0 840.5 L1091.0 844.2 L1111.0 849.2 L1141.0 848.0 L1161.0 849.2 L1173.5 853.0 L1183.5 850.5 L1203.5 854.2 L1228.5 856.8 L1253.5 859.2 L1278.5 861.7 L1298.5 858.8 L1313.5 865.5 L1328.5 865.5 L1336.0 871.7 L1346.0 879.2 L1361.0 885.5 L1378.5 889.3 L1403.5 893.0 L1428.5 895.5 L1449.0 893.0 L1467.8 892.5 L1469.0 890.0 L1499.0 885.5 L1521.5 878.0 L1541.5 875.5 L1569.0 877.5 L1604.0 880.5 L1639.0 884.2 L1674.0 891.8 L1699.0 899.2 L1724.0 908.0 L1749.0 916.7 L1769.5 921.8 L1770.2 928.0 L1767.0 933.0 L1771.5 940.5 L1761.5 942.5 L1764.5 948.0 L1774.0 950.5 L1780.2 954.2 L1779.5 952.1 L1776.5 959.6 L1764.0 970.9 L1750.2 977.1 L1756.5 989.6 L1761.5 993.4 L1767.7 1000.9 L1766.5 1008.4 L1759.0 1020.9 L1762.8 1030.9 L1764.0 1038.4 L1757.8 1048.4 L1754.0 1043.4 L1747.7 1040.9 L1741.5 1045.9 L1736.5 1058.4 L1729.0 1065.9 L1730.2 1073.4 L1736.5 1080.9 L1736.5 1085.9 L1732.7 1098.4 L1726.5 1115.9 L1721.5 1130.9 L1729.0 1128.4 L1731.5 1132.1 L1744.0 1125.9 L1759.0 1113.4 L1766.5 1104.6 L1771.5 1099.6 L1784.0 1090.9 L1792.8 1080.9 L1794.0 1072.1 L1809.0 1068.4 L1809.0 1059.6 L1829.0 1054.6 L1849.0 1053.4 L1869.0 1052.1 L1872.8 1062.1 L1876.5 1069.6 L1884.0 1072.1 L1886.5 1079.6 L1896.5 1080.9 L1904.0 1085.9 L1901.5 1104.6 L1889.0 1105.9 L1884.0 1109.6 L1874.0 1112.1 L1866.5 1115.9 L1861.5 1118.4 L1851.5 1130.9 L1844.0 1145.9 L1836.5 1160.9 L1826.5 1175.9 L1819.0 1177.1 L1815.2 1183.4 L1812.8 1190.9 L1804.0 1193.4 L1799.0 1197.1 L1786.5 1192.1 L1764.0 1188.4 L1744.0 1183.4 L1725.2 1180.9 L1724.0 1175.9 L1709.0 1170.9 L1692.7 1166.4 L1686.5 1178.4 L1679.0 1193.4 L1671.5 1214.6 L1654.0 1213.4 L1639.0 1218.4 L1627.8 1225.9 L1621.5 1234.6 L1622.7 1239.6 L1629.0 1242.1 L1649.0 1245.9 L1669.0 1247.1 L1685.2 1249.6 L1680.2 1265.9 L1675.2 1282.1 L1669.0 1284.6 L1649.0 1283.4 L1629.0 1284.6 L1611.5 1285.9 L1594.0 1290.9 L1574.0 1298.4 L1557.7 1305.9 L1549.0 1290.9 L1539.0 1274.6 L1531.5 1273.4 L1521.5 1275.9 L1509.0 1278.4 L1494.0 1282.1 L1479.0 1285.9 L1466.5 1284.6 L1463.3 1285.4 L1457.1 1290.4 L1459.6 1295.4 L1453.3 1305.4 L1465.8 1312.9 L1475.8 1324.2 L1488.3 1331.7 L1503.3 1339.2 L1515.8 1346.7 L1508.3 1357.9 L1500.8 1370.4 L1493.3 1360.4 L1480.8 1361.7 L1473.3 1365.4 L1458.3 1364.9 L1440.8 1365.9 L1445.8 1374.2 L1450.8 1380.4 L1447.1 1385.4 L1453.3 1392.9 L1460.8 1405.4 L1470.8 1417.9 L1480.8 1424.2 L1493.3 1427.9 L1503.3 1432.9 L1513.3 1445.4 L1522.1 1459.2 L1519.6 1465.4 L1513.3 1476.7 L1515.8 1482.9 L1513.3 1487.9 L1512.1 1502.9 L1510.8 1516.7 L1515.8 1517.9 L1512.1 1547.9 L1509.6 1572.9 L1507.1 1597.9 L1509.6 1607.9 L1515.8 1609.2 L1513.3 1617.9 L1518.3 1627.9 L1519.6 1640.4 L1523.3 1651.7 L1528.3 1652.9 L1518.3 1665.4 L1509.6 1676.7 L1513.3 1680.4 L1510.8 1686.7 L1503.3 1682.9 L1488.3 1677.9 L1473.3 1672.9 L1458.3 1670.4 L1440.8 1669.2 L1438.3 1682.9 L1435.8 1692.9 L1428.3 1705.4 L1422.1 1719.2 L1408.3 1712.9 L1394.6 1707.9 L1390.8 1697.9 L1378.3 1695.4 L1363.3 1691.7 L1359.8 1690.8 L1358.6 1697.1 L1354.8 1704.6 L1339.8 1715.8 L1324.8 1725.8 L1309.8 1737.1 L1294.8 1737.1 L1284.8 1737.1 L1279.8 1733.3 L1276.1 1725.8 L1269.8 1735.8 L1264.8 1730.8 L1259.8 1725.8 L1267.3 1710.8 L1277.3 1698.3 L1287.3 1688.3 L1279.8 1690.8 L1269.8 1695.8 L1257.3 1700.8 L1244.8 1705.8 L1231.1 1708.3 L1227.3 1700.8 L1222.3 1690.8 L1218.6 1679.6 L1207.3 1673.3 L1194.8 1669.6 L1178.6 1683.3 L1176.1 1673.3 L1167.3 1668.3 L1172.3 1657.1 L1182.3 1653.3 L1192.3 1650.8 L1204.8 1642.1 L1199.8 1638.3 L1189.8 1633.3 L1179.8 1623.3 L1172.3 1608.3 L1167.3 1595.8 L1159.8 1583.3 L1157.3 1574.6 L1144.8 1570.8 L1134.8 1565.8 L1124.8 1557.1 L1112.3 1547.1 L1107.3 1535.8 L1109.8 1525.8 L1113.6 1519.6 L1107.3 1513.3 L1097.3 1513.3 L1089.8 1519.6 L1083.6 1527.1 L1079.8 1518.3 L1074.8 1508.3 L1069.8 1497.1 L1059.8 1495.8 L1049.8 1490.8 L1044.8 1499.6 L1034.8 1510.8 L1019.8 1523.3 L1009.8 1538.3 L994.8 1550.8 L999.8 1558.3 L1007.3 1568.3 L1003.6 1575.8 L1004.8 1585.8 L994.8 1593.3 L988.6 1597.1 L994.8 1604.6 L987.3 1610.8 L978.6 1609.6 L972.3 1615.8 L959.8 1625.8 L954.8 1624.6 L947.3 1632.1 L951.1 1635.8 L949.8 1645.8 L944.8 1658.3 L937.3 1670.8 L934.8 1685.8 L931.4 1704.0 L928.9 1710.3 L921.4 1711.5 L916.4 1716.5 L903.9 1720.2 L900.1 1726.5 L896.4 1722.8 L886.4 1724.0 L876.4 1731.5 L863.9 1742.8 L856.4 1754.0 L851.4 1761.5 L846.4 1757.8 L841.4 1749.0 L831.4 1745.2 L821.4 1752.7 L810.1 1761.5 L812.6 1769.0 L807.6 1772.8 L806.4 1784.0 L803.9 1799.0 L802.6 1819.0 L803.9 1832.8 L797.6 1835.2 L792.6 1829.0 L781.4 1826.5 L767.6 1824.0 L767.6 1819.0 L761.4 1804.0 L753.9 1779.0 L748.9 1767.7 L735.1 1769.0 L731.4 1775.2 L721.4 1776.5 L713.9 1770.2 L703.9 1767.7 L698.9 1761.5 L691.4 1765.2 L678.9 1774.0 L672.6 1786.5 L666.4 1789.5 L670.1 1779.0 L665.1 1774.0 L668.9 1771.5 L671.4 1762.8 L668.9 1749.0 L666.4 1736.5 L658.9 1735.2 L650.1 1739.0 L642.6 1736.5 L641.4 1729.0 L636.4 1722.8 L626.4 1734.0 L616.4 1742.8 L606.4 1747.7 L591.4 1759.0 L576.4 1771.5 L560.1 1779.0 L548.9 1790.2 L546.4 1789.5 L550.1 1781.5 L563.9 1761.5 L576.4 1741.5 L581.4 1737.8 L591.4 1744.0 L606.4 1731.5 L608.9 1725.2 L623.9 1720.2 L638.9 1714.0 L645.1 1701.5 L651.4 1686.5 L646.4 1682.8 L631.4 1677.7 L616.4 1672.7 L602.6 1669.0 L606.4 1661.5 L600.1 1654.0 L591.4 1645.2 L581.4 1635.3 L568.9 1634.0 L560.1 1634.0 L553.9 1620.2 L540.1 1621.5 L538.9 1611.5 L533.9 1609.0 L527.6 1599.0 L518.9 1596.5 L515.1 1587.8 L540.1 1566.5 L532.8 1565.0 L524.0 1561.2 L506.5 1562.5 L491.5 1557.5 L477.7 1555.0 L472.7 1548.8 L476.5 1540.0 L485.2 1528.7 L496.5 1526.2 L502.8 1535.0 L509.0 1543.8 L516.5 1547.5 L526.5 1553.8 L535.2 1551.2 L541.5 1542.5 L557.8 1540.0 L562.8 1530.0 L564.0 1515.0 L566.5 1502.5 L574.0 1490.0 L586.5 1486.2 L590.2 1482.5 L587.8 1472.5 L591.5 1465.0 L609.0 1470.0 L615.2 1467.5 L601.5 1460.0 L607.8 1458.8 L604.0 1452.5 L595.2 1451.2 L591.5 1443.8 L596.5 1438.8 L616.5 1427.5 L641.5 1412.5 L662.8 1401.2 L659.0 1392.5 L651.5 1393.8 L639.0 1400.0 L631.5 1393.8 L626.5 1385.0 L621.5 1372.5 L611.5 1357.5 L601.5 1342.5 L589.0 1327.5 L577.8 1317.5 L576.5 1307.5 L571.5 1293.8 L571.5 1282.5 L580.2 1281.2 L571.5 1276.2 L567.8 1282.5 L559.0 1285.0 L557.8 1291.2 L552.8 1293.8 L551.5 1301.2 L557.8 1302.5 L559.0 1312.5 L554.0 1321.2 L551.5 1330.0 L545.2 1332.5 L535.2 1337.5 L531.5 1330.0 L524.0 1335.0 L516.5 1343.7 L521.5 1352.5 L511.5 1357.5 L501.5 1367.5 L495.3 1371.2 L495.3 1382.5 L491.5 1393.8 L481.5 1400.0 L466.5 1405.0 L456.5 1407.5 L454.0 1415.0 L444.0 1422.5 L436.5 1429.5 L429.0 1425.0 L416.5 1422.5 L406.5 1415.0 L401.5 1405.0 L389.0 1400.0 L381.5 1390.0 L366.5 1387.0 L352.8 1385.0 L351.5 1378.8 L342.7 1372.5 L329.0 1374.5 L314.0 1373.8 L311.5 1360.0 L309.0 1347.5 L304.0 1340.0 L297.8 1332.5 L295.2 1322.5 L285.2 1318.8 L287.8 1310.0 L281.5 1301.2 L266.5 1302.5 L252.7 1302.5 L249.0 1287.5 L246.5 1276.2 L235.0 1283.5 L222.5 1286.0 L217.5 1277.2 L210.0 1268.5 L200.0 1261.0 L190.0 1256.0 L182.5 1248.5 L175.0 1238.5 L172.5 1228.5 L165.0 1223.5 L155.0 1213.5 L152.5 1198.5 L143.8 1203.5 L137.5 1191.0 L136.2 1178.5 L130.0 1163.5 L122.5 1168.5 L112.5 1163.5 L105.0 1153.5 L93.8 1136.0 L95.0 1131.0 L86.2 1122.2 L75.0 1126.0 L72.5 1117.2 L67.5 1113.5 L62.5 1108.5 L64.5 1099.8 L60.0 1094.8 L55.5 1096.0 L56.2 1102.2 L53.8 1108.5 L45.0 1103.5 L37.5 1098.5 L36.2 1091.0 L41.2 1086.0 L45.0 1079.8 L40.0 1069.8 L46.2 1066.0 L53.8 1069.8 L61.2 1078.5 L66.2 1081.0 L72.5 1076.0 L76.2 1066.0 L75.0 1056.0 L65.0 1046.0 L47.5 1038.5 L43.8 1028.5 L37.5 1008.5 L31.3 986.0 L31.3 966.0 L30.0 945.5 L37.5 936.7 L75.0 908.0 L107.5 883.0 L106.2 858.0 L105.0 820.5 L106.2 789.2 L103.8 761.8 L102.5 758.0 L97.5 757.5Z" fill="none" stroke="#232323" stroke-width="3.4" stroke-linejoin="round"/>
<path d="M943.2 856.9 L939.4 869.4 L931.9 874.4 L911.9 876.9 L910.7 883.2 L929.4 885.7 L931.9 896.9 L934.4 903.2 L941.9 909.4 L945.7 916.9 L948.2 929.4 L964.4 931.9 L981.9 930.7 L1001.9 929.4 L1021.9 928.2 L1031.9 933.2 L1041.9 944.4 L1054.4 938.2 L1064.4 930.7 L1076.9 928.2 L1091.9 931.9 L1091.9 953.2 L1098.2 961.9 L1100.7 974.4 L1101.4 984.4 L1093.2 991.9 L1090.7 999.4 L1074.4 1001.9 L1061.9 1004.4 L1054.4 1008.2 L1049.4 999.4 L1044.4 991.9 L1036.9 995.7 L1029.4 1004.4 L1021.9 1011.9 L1014.4 1011.9 L1010.7 1019.4 L1006.9 1031.9 L1004.4 1046.9 L1009.4 1051.9 L996.9 1056.9 L995.7 1061.9 L984.4 1071.9 L974.4 1081.9 L966.9 1094.4 L959.4 1106.9 L953.2 1119.4 L939.4 1120.7 L919.4 1119.4 L899.4 1121.9 L896.9 1131.9 L898.2 1151.9 L901.9 1156.9 L903.2 1171.9 L904.4 1184.4 L898.2 1184.4 L896.9 1179.4 L881.9 1179.4 L869.4 1181.9 L856.9 1189.4" fill="none" stroke="#232323" stroke-width="3.4" stroke-linejoin="round" stroke-linecap="round"/>
<path d="M856.9 1254.4 L864.4 1259.4 L871.9 1266.9 L881.9 1271.9 L884.4 1286.9 L891.9 1293.2 L896.9 1292.7" fill="none" stroke="#232323" stroke-width="3.4" stroke-linejoin="round" stroke-linecap="round"/>
<path d="M1443.4 891.7 L1442.9 908.0 L1442.4 925.5 L1440.4 943.0 L1450.4 953.0 L1451.7 961.7 L1445.4 970.5 L1440.4 980.5 L1435.4 990.5 L1427.9 1000.5 L1424.2 1010.5 L1420.4 1018.0 L1412.9 1025.5 L1411.7 1038.0 L1410.4 1050.5 L1415.4 1053.0 L1412.9 1068.0 L1421.7 1070.5 L1422.9 1078.0 L1435.4 1081.7 L1440.4 1085.5 L1442.9 1079.2 L1460.4 1081.7 L1475.4 1079.2 L1486.7 1080.5 L1485.4 1093.0 L1487.9 1105.5 L1489.2 1118.0 L1490.4 1129.2" fill="none" stroke="#232323" stroke-width="3.4" stroke-linejoin="round" stroke-linecap="round"/>
<path d="M1494.2 1130.5 L1477.9 1128.0 L1465.4 1125.5 L1457.9 1129.2 L1450.4 1124.2 L1440.4 1128.0 L1425.4 1130.5 L1410.4 1134.2 L1402.9 1138.0" fill="none" stroke="#232323" stroke-width="3.4" stroke-linejoin="round" stroke-linecap="round"/>
<path d="M1429.6 1129.6 L1417.1 1133.3 L1402.1 1138.3 L1409.6 1154.6 L1424.6 1167.1 L1435.8 1174.6 L1427.1 1187.1 L1419.6 1202.1 L1409.6 1214.6 L1389.6 1205.8 L1379.6 1217.1 L1369.6 1234.6 L1362.1 1247.1 L1354.6 1252.1" fill="none" stroke="#232323" stroke-width="3.4" stroke-linejoin="round" stroke-linecap="round"/>
<path d="M895.9 1292.5 L910.9 1305.0 L918.4 1307.5 L930.9 1298.8 L945.9 1300.0 L958.4 1296.2 L970.9 1292.5 L984.6 1283.8 L993.4 1291.2 L998.4 1295.0 L993.4 1297.5 L988.4 1302.5 L995.9 1306.2 L1003.4 1312.5 L1010.9 1320.0 L1013.4 1330.0 L1018.4 1342.5 L1019.6 1355.0 L1030.9 1360.0 L1043.4 1370.0 L1048.4 1365.0 L1058.4 1367.5 L1068.4 1371.2 L1075.9 1373.8 L1074.6 1380.0 L1083.4 1385.0 L1083.4 1393.8 L1098.4 1395.0 L1113.4 1398.7 L1125.9 1405.0 L1133.4 1410.0 L1132.1 1422.5 L1135.9 1435.0 L1137.1 1447.5 L1133.4 1457.5 L1125.9 1467.5 L1120.9 1475.0 L1118.4 1485.0 L1112.1 1492.5 L1108.4 1502.5 L1105.9 1511.2" fill="none" stroke="#232323" stroke-width="3.4" stroke-linejoin="round" stroke-linecap="round"/>
<path d="M1105.9 1511.2 L1113.4 1513.8 L1122.1 1511.2 L1133.4 1503.8 L1145.9 1495.0 L1150.9 1500.0 L1158.4 1501.2 L1160.9 1497.5 L1170.9 1498.8 L1188.4 1490.0 L1195.9 1487.5 L1205.9 1480.0 L1213.4 1462.5 L1214.6 1453.7 L1225.9 1451.2 L1228.4 1446.2 L1245.9 1440.0 L1263.4 1442.5 L1268.4 1447.5 L1278.4 1448.8 L1288.4 1443.8 L1303.4 1436.2 L1308.4 1430.0 L1315.9 1423.8 L1319.6 1413.8 L1328.4 1405.0 L1335.9 1395.0 L1339.6 1387.5 L1335.9 1377.5 L1335.9 1367.5 L1333.4 1360.0 L1339.6 1353.8 L1340.9 1340.0 L1343.4 1327.5 L1335.9 1320.0 L1333.4 1307.5 L1343.4 1295.0 L1348.4 1291.2 L1343.4 1285.0 L1333.4 1287.5 L1325.9 1285.0 L1320.9 1287.5 L1315.9 1280.0 L1313.4 1270.0 L1318.4 1260.0 L1318.4 1247.5 L1320.9 1236.2" fill="none" stroke="#232323" stroke-width="3.4" stroke-linejoin="round" stroke-linecap="round"/>
<path d="M942.1 816.3 L949.6 825.1 L948.9 840.1 L944.6 852.6 L943.1 856.8" fill="none" stroke="#232323" stroke-width="3.4" stroke-linejoin="round" stroke-linecap="round"/>
<path d="M1322.1 1235.8 L1337.1 1243.3 L1354.6 1252.1" fill="none" stroke="#232323" stroke-width="3.4" stroke-linejoin="round" stroke-linecap="round"/>
<path d="M856.1 1190.3 L849.0 1195.2 L844.2 1211.3 L839.4 1237.1 L849.0 1245.2 L857.1 1254.5" fill="none" stroke="#232323" stroke-width="3.4" stroke-linejoin="round" stroke-linecap="round"/>
<path d="M106.7 881.8 L139.2 909.3" fill="none" stroke="#232323" stroke-width="3.4" stroke-linejoin="round" stroke-linecap="round"/>
<circle cx="563.8" cy="771.8" r="6.8" fill="none" stroke="#0a0a0a" stroke-width="1.9"/>
<circle cx="655.8" cy="748.8" r="17.5" fill="none" stroke="#0a0a0a" stroke-width="1.9"/>
<circle cx="721.5" cy="788.0" r="13.7" fill="none" stroke="#0a0a0a" stroke-width="1.9"/>
<circle cx="790.3" cy="821.8" r="13.7" fill="none" stroke="#0a0a0a" stroke-width="1.9"/>
<circle cx="615.3" cy="866.8" r="18.8" fill="none" stroke="#0a0a0a" stroke-width="1.9"/>
<circle cx="770.3" cy="906.3" r="6.2" fill="none" stroke="#0a0a0a" stroke-width="1.9"/>
<circle cx="740.3" cy="989.3" r="14.5" fill="none" stroke="#0a0a0a" stroke-width="1.9"/>
<circle cx="606.3" cy="1013.0" r="22.0" fill="none" stroke="#0a0a0a" stroke-width="1.9"/>
<circle cx="853.3" cy="1000.5" r="12.0" fill="none" stroke="#0a0a0a" stroke-width="1.9"/>
<circle cx="876.8" cy="873.0" r="18.8" fill="none" stroke="#0a0a0a" stroke-width="1.9"/>
<circle cx="292.4" cy="698.8" r="42.5" fill="none" stroke="#0a0a0a" stroke-width="1.9"/>
<circle cx="184.7" cy="746.0" r="9.2" fill="none" stroke="#0a0a0a" stroke-width="1.9"/>
<circle cx="403.7" cy="689.3" r="10.8" fill="none" stroke="#0a0a0a" stroke-width="1.9"/>
<circle cx="469.9" cy="685.5" r="5.5" fill="none" stroke="#0a0a0a" stroke-width="1.9"/>
<circle cx="532.9" cy="692.3" r="12.0" fill="none" stroke="#0a0a0a" stroke-width="1.9"/>
<circle cx="480.9" cy="788.8" r="3.8" fill="none" stroke="#0a0a0a" stroke-width="1.9"/>
<circle cx="261.9" cy="810.5" r="5.2" fill="none" stroke="#0a0a0a" stroke-width="1.9"/>
<circle cx="374.7" cy="822.3" r="21.2" fill="none" stroke="#0a0a0a" stroke-width="1.9"/>
<circle cx="171.7" cy="854.3" r="16.2" fill="none" stroke="#0a0a0a" stroke-width="1.9"/>
<circle cx="286.7" cy="872.3" r="10.8" fill="none" stroke="#0a0a0a" stroke-width="1.9"/>
<circle cx="434.2" cy="880.0" r="7.5" fill="none" stroke="#0a0a0a" stroke-width="1.9"/>
<circle cx="508.7" cy="864.8" r="13.7" fill="none" stroke="#0a0a0a" stroke-width="1.9"/>
<circle cx="305.4" cy="946.0" r="7.5" fill="none" stroke="#0a0a0a" stroke-width="1.9"/>
<circle cx="422.4" cy="988.0" r="14.5" fill="none" stroke="#0a0a0a" stroke-width="1.9"/>
<circle cx="502.2" cy="1037.5" r="11.8" fill="none" stroke="#0a0a0a" stroke-width="1.9"/>
<circle cx="209.4" cy="1048.5" r="60.0" fill="none" stroke="#0a0a0a" stroke-width="1.9"/>
<circle cx="683.3" cy="1070.3" r="7.5" fill="none" stroke="#0a0a0a" stroke-width="1.9"/>
<circle cx="563.8" cy="1111.1" r="12.0" fill="none" stroke="#0a0a0a" stroke-width="1.9"/>
<circle cx="460.8" cy="1146.1" r="8.8" fill="none" stroke="#0a0a0a" stroke-width="1.9"/>
<circle cx="691.3" cy="1124.8" r="12.0" fill="none" stroke="#0a0a0a" stroke-width="1.9"/>
<circle cx="739.0" cy="1128.6" r="3.8" fill="none" stroke="#0a0a0a" stroke-width="1.9"/>
<circle cx="809.5" cy="1098.6" r="6.8" fill="none" stroke="#0a0a0a" stroke-width="1.9"/>
<circle cx="855.0" cy="1141.1" r="12.0" fill="none" stroke="#0a0a0a" stroke-width="1.9"/>
<circle cx="526.5" cy="1206.6" r="5.5" fill="none" stroke="#0a0a0a" stroke-width="1.9"/>
<circle cx="753.8" cy="1196.6" r="10.0" fill="none" stroke="#0a0a0a" stroke-width="1.9"/>
<circle cx="537.0" cy="1279.8" r="8.2" fill="none" stroke="#0a0a0a" stroke-width="1.9"/>
<circle cx="662.0" cy="1271.1" r="38.8" fill="none" stroke="#0a0a0a" stroke-width="1.9"/>
<circle cx="408.8" cy="1333.3" r="20.5" fill="none" stroke="#0a0a0a" stroke-width="1.9"/>
<circle cx="839.5" cy="1309.1" r="14.5" fill="none" stroke="#0a0a0a" stroke-width="1.9"/>
<circle cx="946.2" cy="1048.5" r="11.2" fill="none" stroke="#0a0a0a" stroke-width="1.9"/>
<circle cx="936.2" cy="1150.5" r="8.8" fill="none" stroke="#0a0a0a" stroke-width="1.9"/>
<circle cx="893.5" cy="1222.8" r="5.5" fill="none" stroke="#0a0a0a" stroke-width="1.9"/>
<circle cx="947.5" cy="1272.2" r="8.8" fill="none" stroke="#0a0a0a" stroke-width="1.9"/>
<circle cx="955.5" cy="1325.5" r="6.2" fill="none" stroke="#0a0a0a" stroke-width="1.9"/>
<circle cx="245.6" cy="1221.7" r="12.5" fill="none" stroke="#0a0a0a" stroke-width="1.9"/>
<circle cx="364.4" cy="1235.4" r="10.0" fill="none" stroke="#0a0a0a" stroke-width="1.9"/>
<circle cx="377.6" cy="1167.4" r="5.5" fill="none" stroke="#0a0a0a" stroke-width="1.9"/>
<circle cx="788.8" cy="1431.7" r="32.0" fill="none" stroke="#0a0a0a" stroke-width="1.9"/>
<circle cx="891.8" cy="1434.9" r="11.2" fill="none" stroke="#0a0a0a" stroke-width="1.9"/>
<circle cx="655.5" cy="1463.7" r="5.0" fill="none" stroke="#0a0a0a" stroke-width="1.9"/>
<circle cx="997.5" cy="1437.4" r="15.5" fill="none" stroke="#0a0a0a" stroke-width="1.9"/>
<circle cx="810.5" cy="1560.4" r="9.2" fill="none" stroke="#0a0a0a" stroke-width="1.9"/>
<circle cx="941.3" cy="1564.9" r="10.8" fill="none" stroke="#0a0a0a" stroke-width="1.9"/>
<circle cx="591.8" cy="1588.4" r="12.5" fill="none" stroke="#0a0a0a" stroke-width="1.9"/>
<circle cx="677.3" cy="1590.9" r="11.2" fill="none" stroke="#0a0a0a" stroke-width="1.9"/>
<circle cx="713.0" cy="1687.9" r="20.0" fill="none" stroke="#0a0a0a" stroke-width="1.9"/>
<circle cx="910.5" cy="1667.4" r="10.0" fill="none" stroke="#0a0a0a" stroke-width="1.9"/>
<circle cx="768.0" cy="1756.7" r="12.0" fill="none" stroke="#0a0a0a" stroke-width="1.9"/>
<circle cx="984.4" cy="871.9" r="36.2" fill="none" stroke="#0a0a0a" stroke-width="1.9"/>
<circle cx="1068.7" cy="894.4" r="14.5" fill="none" stroke="#0a0a0a" stroke-width="1.9"/>
<circle cx="1183.9" cy="912.4" r="14.5" fill="none" stroke="#0a0a0a" stroke-width="1.9"/>
<circle cx="1276.4" cy="893.7" r="5.5" fill="none" stroke="#0a0a0a" stroke-width="1.9"/>
<circle cx="1309.9" cy="921.4" r="10.8" fill="none" stroke="#0a0a0a" stroke-width="1.9"/>
<circle cx="924.4" cy="942.4" r="8.0" fill="none" stroke="#0a0a0a" stroke-width="1.9"/>
<circle cx="1031.2" cy="966.9" r="14.5" fill="none" stroke="#0a0a0a" stroke-width="1.9"/>
<circle cx="1251.4" cy="995.2" r="7.5" fill="none" stroke="#0a0a0a" stroke-width="1.9"/>
<circle cx="1138.9" cy="1006.2" r="8.2" fill="none" stroke="#0a0a0a" stroke-width="1.9"/>
<circle cx="1056.2" cy="1030.2" r="8.2" fill="none" stroke="#0a0a0a" stroke-width="1.9"/>
<circle cx="1301.4" cy="1071.2" r="11.8" fill="none" stroke="#0a0a0a" stroke-width="1.9"/>
<circle cx="1220.7" cy="1086.9" r="30.0" fill="none" stroke="#0a0a0a" stroke-width="1.9"/>
<circle cx="1068.9" cy="1094.4" r="10.0" fill="none" stroke="#0a0a0a" stroke-width="1.9"/>
<circle cx="999.9" cy="1093.2" r="8.2" fill="none" stroke="#0a0a0a" stroke-width="1.9"/>
<circle cx="1018.9" cy="1132.4" r="3.3" fill="none" stroke="#0a0a0a" stroke-width="1.9"/>
<circle cx="988.7" cy="1205.7" r="10.0" fill="none" stroke="#0a0a0a" stroke-width="1.9"/>
<circle cx="1074.9" cy="1188.2" r="10.8" fill="none" stroke="#0a0a0a" stroke-width="1.9"/>
<circle cx="1245.2" cy="1208.2" r="15.0" fill="none" stroke="#0a0a0a" stroke-width="1.9"/>
<circle cx="1179.4" cy="1231.2" r="10.0" fill="none" stroke="#0a0a0a" stroke-width="1.9"/>
<circle cx="1126.9" cy="1239.4" r="10.0" fill="none" stroke="#0a0a0a" stroke-width="1.9"/>
<circle cx="1021.9" cy="1273.2" r="6.2" fill="none" stroke="#0a0a0a" stroke-width="1.9"/>
<circle cx="1145.7" cy="1123.2" r="111.2" fill="none" stroke="#0a0a0a" stroke-width="1.9"/>
<circle cx="1373.7" cy="906.2" r="18.8" fill="none" stroke="#0a0a0a" stroke-width="1.9"/>
<circle cx="1419.2" cy="946.7" r="11.8" fill="none" stroke="#0a0a0a" stroke-width="1.9"/>
<circle cx="1467.2" cy="918.5" r="23.8" fill="none" stroke="#0a0a0a" stroke-width="1.9"/>
<circle cx="1497.2" cy="949.2" r="11.8" fill="none" stroke="#0a0a0a" stroke-width="1.9"/>
<circle cx="1609.7" cy="924.7" r="26.2" fill="none" stroke="#0a0a0a" stroke-width="1.9"/>
<circle cx="1715.4" cy="946.0" r="20.5" fill="none" stroke="#0a0a0a" stroke-width="1.9"/>
<circle cx="1350.9" cy="990.0" r="13.0" fill="none" stroke="#0a0a0a" stroke-width="1.9"/>
<circle cx="1559.7" cy="998.5" r="5.5" fill="none" stroke="#0a0a0a" stroke-width="1.9"/>
<circle cx="1652.2" cy="996.0" r="5.5" fill="none" stroke="#0a0a0a" stroke-width="1.9"/>
<circle cx="1714.9" cy="1023.7" r="14.5" fill="none" stroke="#0a0a0a" stroke-width="1.9"/>
<circle cx="1458.4" cy="1048.5" r="8.2" fill="none" stroke="#0a0a0a" stroke-width="1.9"/>
<circle cx="1662.4" cy="1061.2" r="5.5" fill="none" stroke="#0a0a0a" stroke-width="1.9"/>
<circle cx="1416.7" cy="1089.2" r="7.5" fill="none" stroke="#0a0a0a" stroke-width="1.9"/>
<circle cx="1346.2" cy="1120.0" r="5.5" fill="none" stroke="#0a0a0a" stroke-width="1.9"/>
<circle cx="1525.4" cy="1128.0" r="32.5" fill="none" stroke="#0a0a0a" stroke-width="1.9"/>
<circle cx="1644.2" cy="1130.5" r="17.0" fill="none" stroke="#0a0a0a" stroke-width="1.9"/>
<circle cx="1354.7" cy="1156.7" r="8.8" fill="none" stroke="#0a0a0a" stroke-width="1.9"/>
<circle cx="1760.4" cy="1151.7" r="8.8" fill="none" stroke="#0a0a0a" stroke-width="1.9"/>
<circle cx="1341.7" cy="1195.5" r="11.2" fill="none" stroke="#0a0a0a" stroke-width="1.9"/>
<circle cx="1507.4" cy="1246.2" r="18.0" fill="none" stroke="#0a0a0a" stroke-width="1.9"/>
<circle cx="1371.6" cy="1284.1" r="11.2" fill="none" stroke="#0a0a0a" stroke-width="1.9"/>
<circle cx="1284.6" cy="1292.6" r="14.5" fill="none" stroke="#0a0a0a" stroke-width="1.9"/>
<circle cx="1195.8" cy="1323.3" r="11.2" fill="none" stroke="#0a0a0a" stroke-width="1.9"/>
<circle cx="1377.1" cy="1339.1" r="9.2" fill="none" stroke="#0a0a0a" stroke-width="1.9"/>
<circle cx="1462.1" cy="1341.6" r="10.5" fill="none" stroke="#0a0a0a" stroke-width="1.9"/>
<circle cx="1302.1" cy="1351.6" r="7.5" fill="none" stroke="#0a0a0a" stroke-width="1.9"/>
<circle cx="1298.8" cy="1397.1" r="3.3" fill="none" stroke="#0a0a0a" stroke-width="1.9"/>
<circle cx="1170.3" cy="1411.6" r="16.2" fill="none" stroke="#0a0a0a" stroke-width="1.9"/>
<circle cx="1391.6" cy="1422.8" r="17.5" fill="none" stroke="#0a0a0a" stroke-width="1.9"/>
<circle cx="1474.1" cy="1467.6" r="8.0" fill="none" stroke="#0a0a0a" stroke-width="1.9"/>
<circle cx="1298.8" cy="1488.3" r="5.5" fill="none" stroke="#0a0a0a" stroke-width="1.9"/>
<circle cx="1205.3" cy="1536.6" r="13.7" fill="none" stroke="#0a0a0a" stroke-width="1.9"/>
<circle cx="1338.3" cy="1548.3" r="22.5" fill="none" stroke="#0a0a0a" stroke-width="1.9"/>
<circle cx="1447.8" cy="1548.3" r="17.5" fill="none" stroke="#0a0a0a" stroke-width="1.9"/>
<circle cx="1066.6" cy="1307.5" r="7.5" fill="none" stroke="#0a0a0a" stroke-width="1.9"/>
<circle cx="1085.9" cy="1450.0" r="8.2" fill="none" stroke="#0a0a0a" stroke-width="1.9"/>
<circle cx="1384.5" cy="1616.0" r="3.8" fill="none" stroke="#0a0a0a" stroke-width="1.9"/>
<circle cx="1473.5" cy="1636.5" r="7.5" fill="none" stroke="#0a0a0a" stroke-width="1.9"/>
<circle cx="1254.0" cy="1647.3" r="10.8" fill="none" stroke="#0a0a0a" stroke-width="1.9"/>
<circle cx="1392.0" cy="1669.8" r="11.2" fill="none" stroke="#0a0a0a" stroke-width="1.9"/>
<circle cx="1312.7" cy="1691.0" r="8.8" fill="none" stroke="#0a0a0a" stroke-width="1.9"/>
<circle cx="1837.8" cy="1103.9" r="12.5" fill="none" stroke="#0a0a0a" stroke-width="1.9"/>
<text x="289.2" y="646.8" font-size="21.6" text-anchor="middle" textLength="175.0" lengthAdjust="spacingAndGlyphs" fill="#000" stroke="#fff" stroke-width="5" stroke-linejoin="round" paint-order="stroke fill">Grandcamp-Maisy</text>
<text x="150.4" y="977.2" font-size="21.6" text-anchor="middle" textLength="143.2" lengthAdjust="spacingAndGlyphs" fill="#000" stroke="#fff" stroke-width="5" stroke-linejoin="round" paint-order="stroke fill">Isigny-sur-Mer</text>
<text x="609.5" y="1059.8" font-size="21.6" text-anchor="middle" textLength="90.0" lengthAdjust="spacingAndGlyphs" fill="#000" stroke="#fff" stroke-width="5" stroke-linejoin="round" paint-order="stroke fill">Trévières</text>
<text x="671.8" y="1333.6" font-size="21.6" text-anchor="middle" textLength="145.5" lengthAdjust="spacingAndGlyphs" fill="#000" stroke="#fff" stroke-width="5" stroke-linejoin="round" paint-order="stroke fill">Le Molay-Littry</text>
<text x="257.4" y="1257.9" font-size="21.6" text-anchor="middle" textLength="50.0" lengthAdjust="spacingAndGlyphs" fill="#000" stroke="#fff" stroke-width="5" stroke-linejoin="round" paint-order="stroke fill">Lison</text>
<text x="790.0" y="1452.4" font-size="21.6" text-anchor="middle" textLength="192.5" lengthAdjust="spacingAndGlyphs" fill="#000" stroke="#fff" stroke-width="5" stroke-linejoin="round" paint-order="stroke fill">Balleroy-sur-Drôme</text>
<text x="1145.7" y="1143.9" font-size="21.6" text-anchor="middle" textLength="70.0" lengthAdjust="spacingAndGlyphs" fill="#000" stroke="#fff" stroke-width="5" stroke-linejoin="round" paint-order="stroke fill">Bayeux</text>
<text x="1533.5" y="1174.2" font-size="21.6" text-anchor="middle" textLength="181.2" lengthAdjust="spacingAndGlyphs" fill="#000" stroke="#fff" stroke-width="5" stroke-linejoin="round" paint-order="stroke fill">Creully sur Seulles</text>
<text x="1390.8" y="1472.6" font-size="21.6" text-anchor="middle" textLength="75.0" lengthAdjust="spacingAndGlyphs" fill="#000" stroke="#fff" stroke-width="5" stroke-linejoin="round" paint-order="stroke fill">Audrieu</text>
<text x="1339.0" y="1568.3" font-size="21.6" text-anchor="middle" textLength="153.8" lengthAdjust="spacingAndGlyphs" fill="#000" stroke="#fff" stroke-width="5" stroke-linejoin="round" paint-order="stroke fill">Tilly-sur-Seulles</text>
<text x="1052.8" y="808.8" font-size="21.6" text-anchor="middle" textLength="233.8" lengthAdjust="spacingAndGlyphs" fill="#000" stroke="#fff" stroke-width="5" stroke-linejoin="round" paint-order="stroke fill">Port-en-Bessin-Huppain</text>
</g>
<rect x="0" y="0" width="4960" height="305" fill="#8b97b0"/>
<text x="0" y="0" transform="translate(70,201) scale(1.44,1.0)" font-size="126" font-weight="bold" fill="#fff" textLength="400" lengthAdjust="spacingAndGlyphs">Vacance</text>
<rect x="2058" y="301" width="2960" height="779" rx="19" ry="19" fill="#e2e2e2"/>
<text x="2129" y="445" font-size="81" font-weight="bold" fill="#000" textLength="1492" lengthAdjust="spacingAndGlyphs">Nombre de logements vacants en 2019</text>
<text x="3673" y="445" font-size="81" font-weight="bold" fill="#000" textLength="1222" lengthAdjust="spacingAndGlyphs">Taux de vacance en 2019 (en %)</text>
<circle cx="2346" cy="750.5" r="219" fill="none" stroke="#1a1a1a" stroke-width="4.5"/>
<line x1="2346" y1="531.5" x2="2610" y2="531.5" stroke="#555" stroke-width="1.6"/>
<text x="2636" y="560" font-size="75" fill="#000">500</text>
<circle cx="2346" cy="814.5" r="155" fill="none" stroke="#1a1a1a" stroke-width="4.5"/>
<line x1="2346" y1="659.5" x2="2610" y2="659.5" stroke="#555" stroke-width="1.6"/>
<text x="2636" y="687.5" font-size="75" fill="#000">250</text>
<circle cx="2346" cy="871.5" r="98" fill="none" stroke="#1a1a1a" stroke-width="4.5"/>
<line x1="2346" y1="773.5" x2="2610" y2="773.5" stroke="#555" stroke-width="1.6"/>
<text x="2636" y="802" font-size="75" fill="#000">100</text>
<rect x="3672" y="491.0" width="163" height="95" fill="#d5e6ea" stroke="#f6f6f6" stroke-width="6"/>
<text x="3904" y="568.0" font-size="75" fill="#000">moins de 3</text>
<rect x="3672" y="632.7" width="163" height="95" fill="#add6de" stroke="#f6f6f6" stroke-width="6"/>
<text x="3904" y="709.4" font-size="75" fill="#000">entre 3 et 6</text>
<rect x="3672" y="774.4" width="163" height="95" fill="#68a6b2" stroke="#f6f6f6" stroke-width="6"/>
<text x="3904" y="850.8" font-size="75" fill="#000">entre 6 et 10</text>
<rect x="3672" y="916.1" width="163" height="95" fill="#48727b" stroke="#f6f6f6" stroke-width="6"/>
<text x="3904" y="992.2" font-size="75" fill="#000">plus de 10</text>
<path d="M85 4305 L26 4719 L85 4626 Z" fill="#fff" stroke="#000" stroke-width="5" stroke-linejoin="miter"/>
<path d="M85 4305 L148 4719 L85 4626 Z" fill="#000" stroke="#000" stroke-width="3"/>
<text x="85" y="4281" font-size="36" font-weight="bold" text-anchor="middle" fill="#000">N</text>
<path d="M89.9 4841 L89.9 4914 L996.7 4914 L996.7 4841" fill="none" stroke="#000" stroke-width="7"/>
<line x1="316.6" y1="4841" x2="316.6" y2="4914" stroke="#000" stroke-width="7"/>
<line x1="543.3" y1="4841" x2="543.3" y2="4914" stroke="#000" stroke-width="7"/>
<line x1="770.0" y1="4841" x2="770.0" y2="4914" stroke="#000" stroke-width="7"/>
<text transform="translate(89.9,4772.6) scale(0.54,1)" font-size="71.6" fill="#000" x="-19.9" textLength="39.8" lengthAdjust="spacing">0</text>
<text transform="translate(316.6,4772.6) scale(0.54,1)" font-size="71.6" fill="#000" x="-61.6" textLength="123.3" lengthAdjust="spacing">2.5</text>
<text transform="translate(543.3,4772.6) scale(0.54,1)" font-size="71.6" fill="#000" x="-19.9" textLength="39.8" lengthAdjust="spacing">5</text>
<text transform="translate(770.0,4772.6) scale(0.54,1)" font-size="71.6" fill="#000" x="-61.6" textLength="123.3" lengthAdjust="spacing">7.5</text>
<text transform="translate(996.7,4772.6) scale(0.54,1)" font-size="71.6" fill="#000" x="-35.5" textLength="214" lengthAdjust="spacing">10 km</text>
<rect x="4390" y="4569" width="331" height="337" fill="#8b97b5"/>
<g transform="translate(4370,4550) scale(0.1915)" fill="none" stroke="#fff" stroke-linecap="round" stroke-linejoin="round" opacity="0.96">
<path d="M250 185 L340 235 Q900 290 1500 245 L1650 210" stroke-width="46"/>
<path d="M335 150 L360 400 Q400 600 430 680 Q500 830 560 900 Q650 1010 760 1080 Q880 1150 1000 1170 Q1200 1200 1400 1185" stroke-width="58"/>
<path d="M320 630 Q400 850 640 1040" stroke-width="34"/>
<path d="M1640 215 Q1480 480 1420 700 Q1380 830 1350 950" stroke-width="42"/>
<path d="M1560 330 Q1450 560 1400 800" stroke-width="28"/>
<path d="M1000 520 Q760 480 740 700 Q760 900 980 890 Q1120 870 1180 780" stroke-width="50"/>
<path d="M1010 600 Q840 600 850 720 Q880 830 1020 800" stroke-width="28"/>
<path d="M800 520 L1040 515 L1180 780" stroke-width="24"/>
<path d="M760 560 L640 400" stroke-width="34"/>
<path d="M1060 540 L1200 370" stroke-width="30"/>
<path d="M740 760 L520 810" stroke-width="32"/>
<path d="M1180 780 L1350 870 L1340 960" stroke-width="24"/>
<path d="M930 890 L935 1090" stroke-width="36"/>
</g>
<text x="4405" y="4849" font-size="65" fill="#fff" textLength="301" lengthAdjust="spacingAndGlyphs">AUCAME</text>
<text x="4406" y="4889" font-size="31" fill="#fff" textLength="301" lengthAdjust="spacingAndGlyphs">Caen Normandie</text>
<ellipse cx="147" cy="521" rx="13" ry="11" fill="#eef3f8"/>
<ellipse cx="96" cy="562" rx="24" ry="9" fill="#eef3f8" transform="rotate(-18 96 562)"/>
<text transform="translate(4807,4890) rotate(-90)" font-size="74.4" fill="#000" textLength="1935" lengthAdjust="spacingAndGlyphs">Sources : Aucame 2018, MAJIC III - Fichiers fonciers 2019</text>
<text transform="translate(4894,4890) rotate(-90)" font-size="74" fill="#000" textLength="875" lengthAdjust="spacingAndGlyphs">Réalisation : Aucame 2018</text>
</svg></body></html>
